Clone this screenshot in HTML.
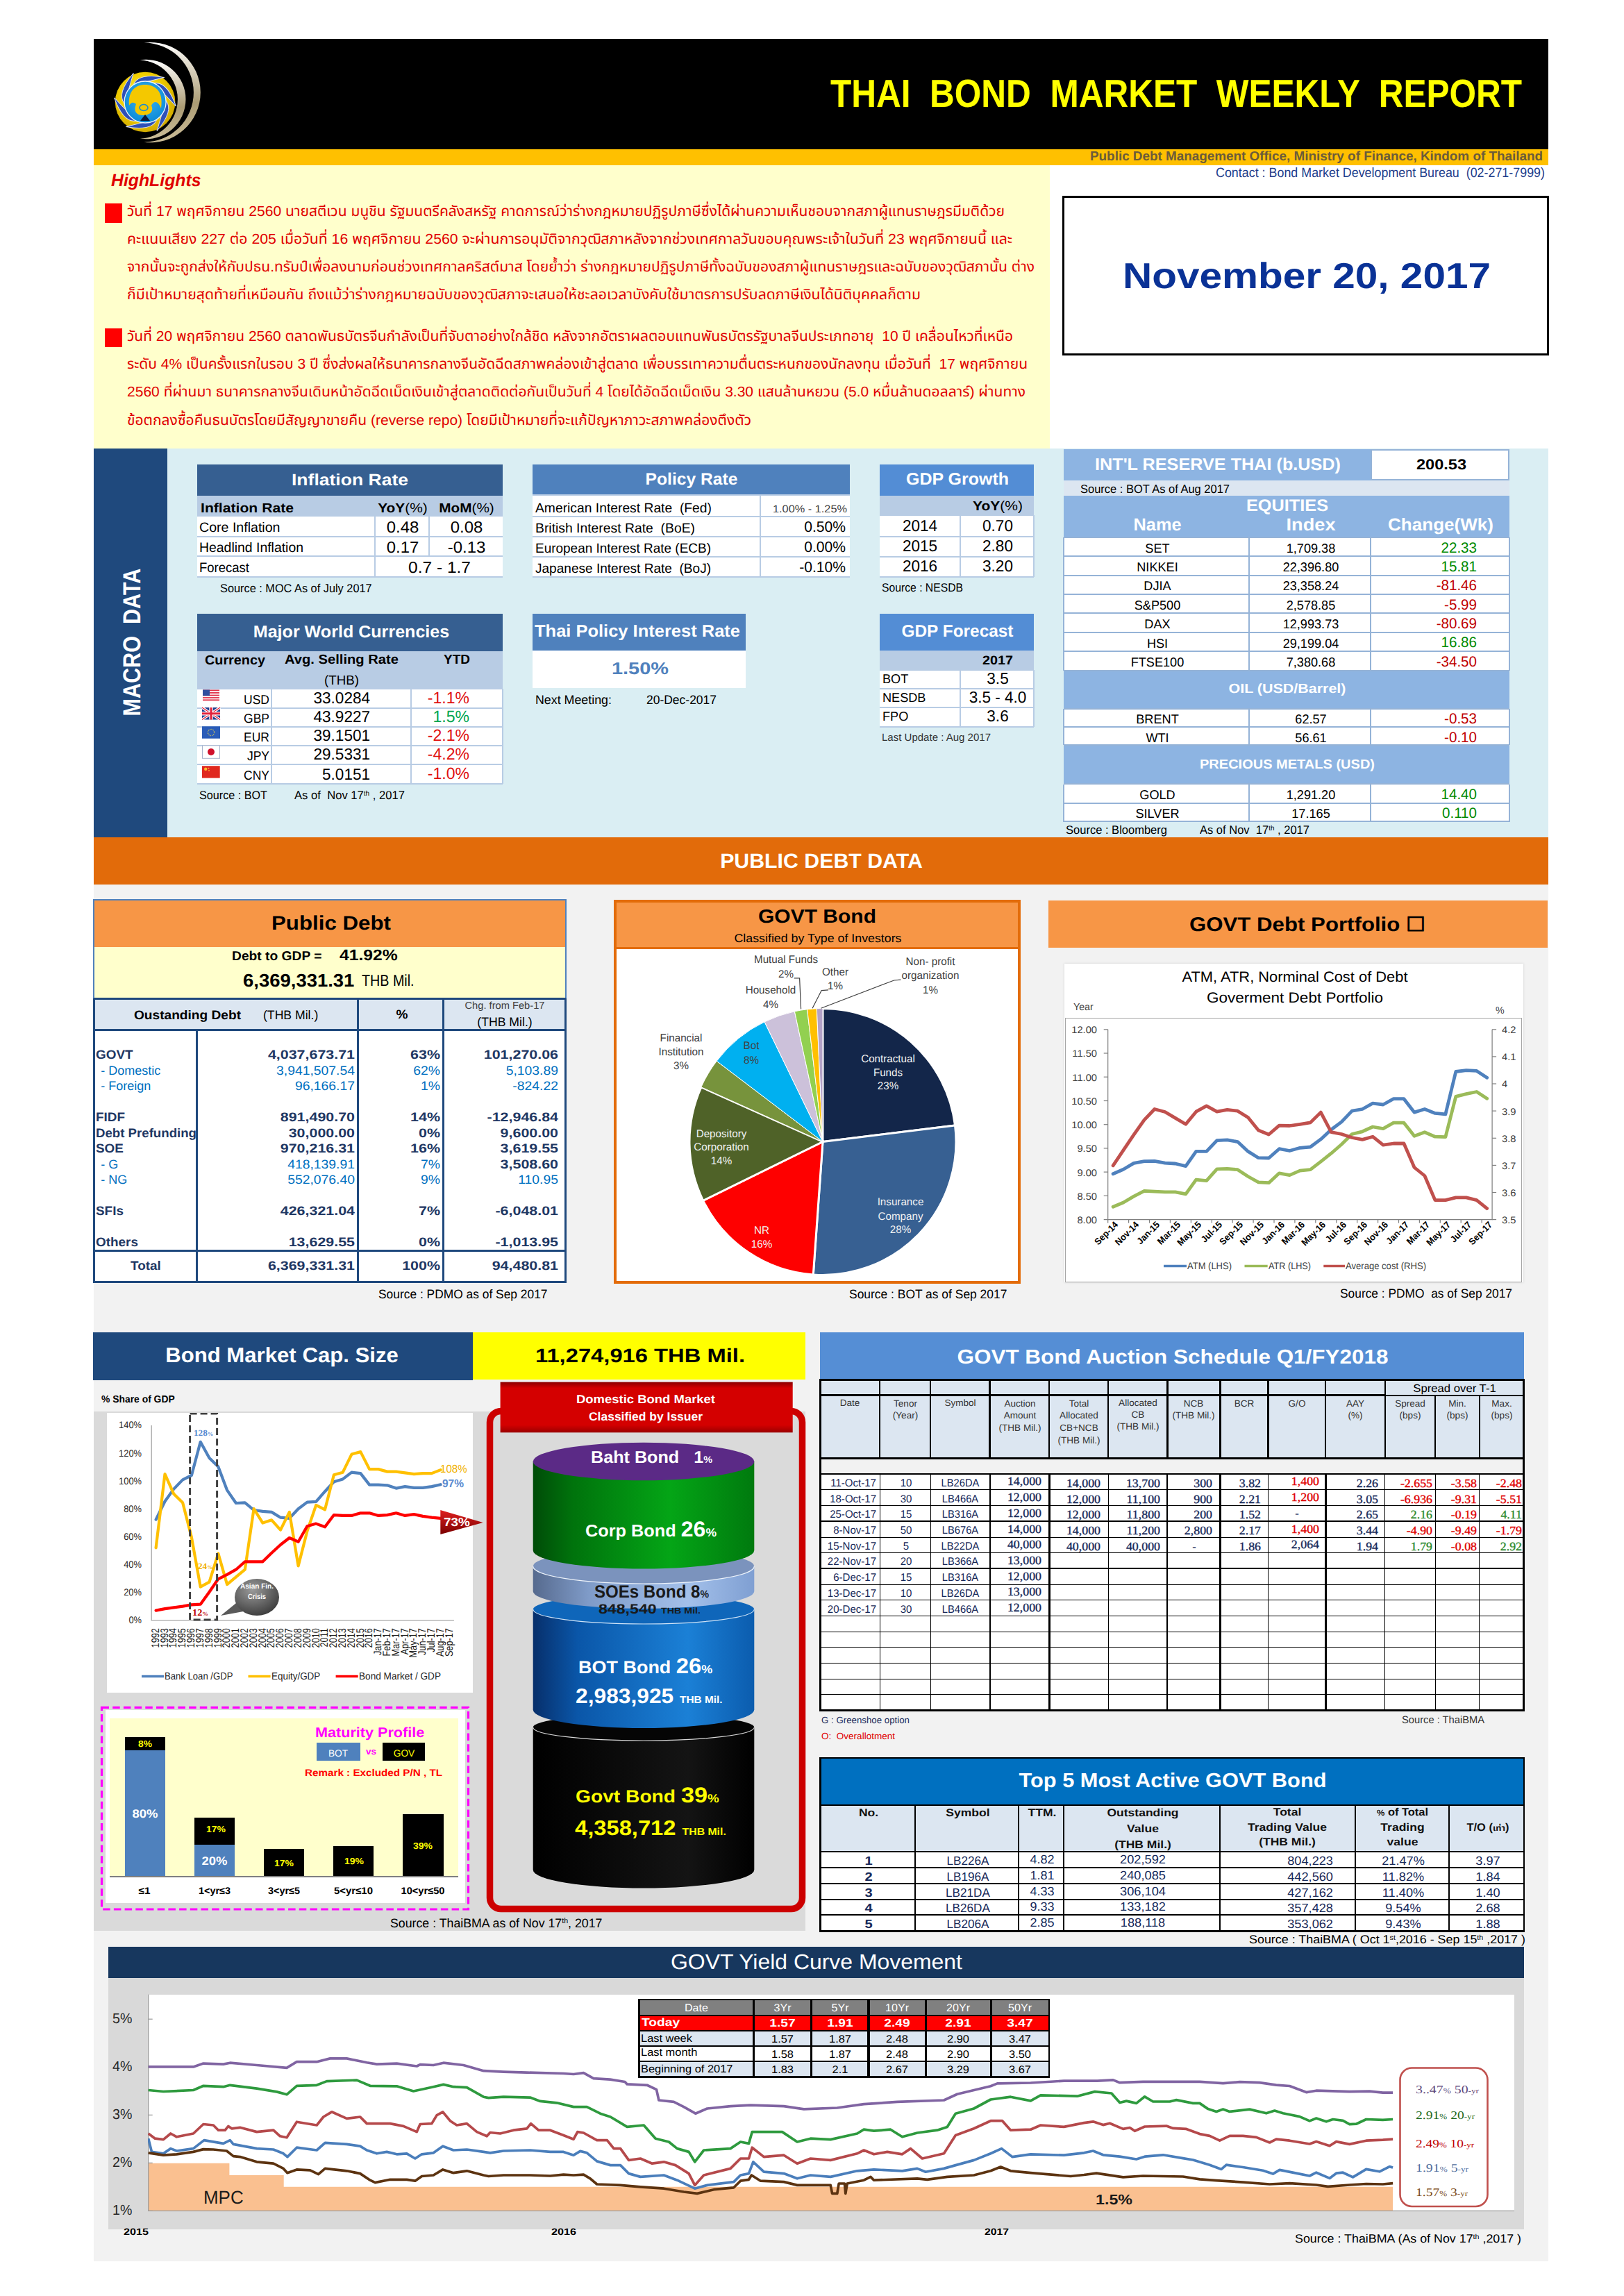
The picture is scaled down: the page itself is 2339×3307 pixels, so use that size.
<!DOCTYPE html>
<html lang="th"><head><meta charset="utf-8"><title>Thai Bond Market Weekly Report</title>
<style>
html,body{margin:0;padding:0;background:#fff;}
#pg{position:relative;width:2339px;height:3307px;overflow:hidden;background:#fff;font-family:"Liberation Sans",sans-serif;text-rendering:geometricPrecision;}
#pg div,#pg span,#pg svg{position:absolute;box-sizing:border-box;}
#pg span{white-space:pre;}
#pg em{font-style:normal;font-weight:normal;}
#pg sup{font-size:60%;vertical-align:baseline;position:relative;top:-0.5em;}
</style></head><body><div id="pg">
<div style="left:135.0px;top:56.0px;width:2094.5px;height:158.5px;background:#000;"></div>
<div style="left:135.0px;top:214.5px;width:2094.5px;height:23.0px;background:#ffc000;"></div>
<div style="left:135.0px;top:237.5px;width:1377.0px;height:408.0px;background:#ffffcc;"></div>
<div style="left:135.0px;top:645.5px;width:106.0px;height:560.5px;background:#1f497d;"></div>
<div style="left:241.0px;top:645.5px;width:1988.5px;height:560.5px;background:#daeef3;"></div>
<div style="left:135.0px;top:1206.0px;width:2094.5px;height:68.0px;background:#e26b0a;"></div>
<div style="left:135.0px;top:1274.0px;width:2094.5px;height:1983.0px;background:#f2f2f2;"></div>
<svg style="left:150px;top:56px;width:150px;height:158px" viewBox="150 56 150 158">
<defs>
<radialGradient id="lgY" cx="45%" cy="40%" r="65%"><stop offset="0" stop-color="#fff36a"/><stop offset="0.55" stop-color="#f2cf00"/><stop offset="1" stop-color="#c9a200"/></radialGradient>
<radialGradient id="lgB" cx="50%" cy="40%" r="60%"><stop offset="0" stop-color="#3fb4ee"/><stop offset="1" stop-color="#0a8ad8"/></radialGradient>
<linearGradient id="lgS" x1="0" y1="0" x2="0" y2="1"><stop offset="0" stop-color="#ffffff"/><stop offset="0.3" stop-color="#d6cdb8"/><stop offset="0.6" stop-color="#ab9c74"/><stop offset="1" stop-color="#cbbd98"/></linearGradient>
</defs>
<path d="M207.3 61.5 A72.2 72.2 0 1 1 207.3 204.7 A71.6 71.6 0 0 0 207.3 61.5 Z" fill="url(#lgS)"/>
<path d="M201.7 86.5 A57.2 57.2 0 1 1 201.7 199.6 A56.6 56.6 0 0 0 201.7 86.5 Z" fill="url(#lgS)"/>
<circle cx="209.1" cy="147" r="43.3" fill="url(#lgY)"/>
<g transform="translate(209.1 147)" fill="#2f50b8" stroke="#dfe8ff" stroke-width="0.9">
<path d="M29.9 -2.1 Q41.8 12.0 16.9 41.7 Q23.0 20.7 29.9 -2.1 Z" transform="rotate(0)"/><path d="M29.9 -2.1 Q41.8 12.0 16.9 41.7 Q23.0 20.7 29.9 -2.1 Z" transform="rotate(60)"/><path d="M29.9 -2.1 Q41.8 12.0 16.9 41.7 Q23.0 20.7 29.9 -2.1 Z" transform="rotate(120)"/><path d="M29.9 -2.1 Q41.8 12.0 16.9 41.7 Q23.0 20.7 29.9 -2.1 Z" transform="rotate(180)"/><path d="M29.9 -2.1 Q41.8 12.0 16.9 41.7 Q23.0 20.7 29.9 -2.1 Z" transform="rotate(240)"/><path d="M29.9 -2.1 Q41.8 12.0 16.9 41.7 Q23.0 20.7 29.9 -2.1 Z" transform="rotate(300)"/>
</g>
<circle cx="209.1" cy="147" r="30" fill="url(#lgB)" stroke="#e8f4ff" stroke-width="1.3"/>
<path d="M186 152 C184 128 198 122 209 122 C222 122 236 130 232 156 C228 146 222 144 218 152 C222 160 216 166 206 166 C196 166 192 160 196 150 C192 146 188 148 186 152 Z" fill="#f4c800"/>
<path d="M201 155 a6 4.5 0 1 0 12 0 a6 4.5 0 1 0 -12 0" fill="none" stroke="#1a8ad0" stroke-width="1.6"/>
<path d="M202 174 L209 165 L216 174 Z" fill="#0a1a3a"/>
</svg>
<span style="left:1195.5px;top:106.7px;font-size:56.5px;line-height:56.5px;color:#ffff00;font-weight:bold;transform-origin:0 50%;transform:scaleX(0.8765);">THAI  BOND  MARKET  WEEKLY  REPORT</span>
<span style="left:2222.0px;top:216.4px;font-size:18.8px;line-height:18.8px;color:#6b5b3a;font-weight:bold;transform-origin:100% 50%;transform:translateX(-100%) scaleX(1.0045);">Public Debt Management Office, Ministry of Finance, Kindom of Thailand</span>
<span style="left:2224.5px;top:239.5px;font-size:19.3px;line-height:19.3px;color:#1f3d8a;transform-origin:100% 50%;transform:translateX(-100%) scaleX(0.9271);">Contact : Bond Market Development Bureau  (02-271-7999)</span>
<div style="left:1530.0px;top:282.0px;width:700.5px;height:230.0px;background:#fff;border:3.5px solid #000;"></div>
<span style="left:1881.8px;top:371.7px;font-size:52.0px;line-height:52.0px;color:#0a3296;font-weight:bold;transform:translateX(-50%) scaleX(1.1248);">November 20, 2017</span>
<span style="left:160.3px;top:247.8px;font-size:25.0px;line-height:25.0px;color:#e00000;font-weight:bold;font-style:italic;transform-origin:0 50%;transform:scaleX(0.9921);">HighLights</span>
<div style="left:151.2px;top:293.0px;width:24.8px;height:27.5px;background:#ff0000;"></div>
<div style="left:151.2px;top:472.5px;width:24.8px;height:27.5px;background:#ff0000;"></div>
<div style="left:178px;top:282.4px;width:1272.0px;height:44px;overflow:hidden">
<span style="left:5.0px;top:12.6px;font-size:20.5px;line-height:20.5px;color:#e00000;font-family:'Liberation Sans', 'Noto Sans Thai', 'Tahoma', 'Loma', 'Garuda', sans-serif;transform-origin:0 50%;transform:scaleX(1.0267);">วันที่ 17 พฤศจิกายน 2560 นายสตีเวน มนูชิน รัฐมนตรีคลังสหรัฐ คาดการณ์ว่าร่างกฎหมายปฏิรูปภาษีซึ่งได้ผ่านความเห็นชอบจากสภาผู้แทนราษฎรมีมติด้วย</span>
</div>
<div style="left:178px;top:322.4px;width:1283.0px;height:44px;overflow:hidden">
<span style="left:5.0px;top:12.6px;font-size:20.5px;line-height:20.5px;color:#e00000;font-family:'Liberation Sans', 'Noto Sans Thai', 'Tahoma', 'Loma', 'Garuda', sans-serif;transform-origin:0 50%;transform:scaleX(1.0368);">คะแนนเสียง 227 ต่อ 205 เมื่อวันที่ 16 พฤศจิกายน 2560 จะผ่านการอนุมัติจากวุฒิสภาหลังจากช่วงเทศกาลวันขอบคุณพระเจ้าในวันที่ 23 พฤศจิกายนนี้ และ</span>
</div>
<div style="left:178px;top:362.4px;width:1315.0px;height:44px;overflow:hidden">
<span style="left:5.0px;top:12.6px;font-size:20.5px;line-height:20.5px;color:#e00000;font-family:'Liberation Sans', 'Noto Sans Thai', 'Tahoma', 'Loma', 'Garuda', sans-serif;transform-origin:0 50%;transform:scaleX(1.0276);">จากนั้นจะถูกส่งให้กับปธน.ทรัมป์เพื่อลงนามก่อนช่วงเทศกาลคริสต์มาส โดยย้ำว่า ร่างกฎหมายปฏิรูปภาษีทั้งฉบับของสภาผู้แทนราษฎรและฉบับของวุฒิสภานั้น ต่าง</span>
</div>
<div style="left:178px;top:402.4px;width:1151.0px;height:44px;overflow:hidden">
<span style="left:5.0px;top:12.6px;font-size:20.5px;line-height:20.5px;color:#e00000;font-family:'Liberation Sans', 'Noto Sans Thai', 'Tahoma', 'Loma', 'Garuda', sans-serif;transform-origin:0 50%;transform:scaleX(1.0335);">ก็มีเป้าหมายสุดท้ายที่เหมือนกัน ถึงแม้ว่าร่างกฎหมายฉบับของวุฒิสภาจะเสนอให้ชะลอเวลาบังคับใช้มาตรการปรับลดภาษีเงินได้นิติบุคคลก็ตาม</span>
</div>
<div style="left:178px;top:462.0px;width:1284.0px;height:44px;overflow:hidden">
<span style="left:5.0px;top:12.6px;font-size:20.5px;line-height:20.5px;color:#e00000;font-family:'Liberation Sans', 'Noto Sans Thai', 'Tahoma', 'Loma', 'Garuda', sans-serif;transform-origin:0 50%;transform:scaleX(1.0244);">วันที่ 20 พฤศจิกายน 2560 ตลาดพันธบัตรจีนกำลังเป็นที่จับตาอย่างใกล้ชิด หลังจากอัตราผลตอบแทนพันธบัตรรัฐบาลจีนประเภทอายุ  10 ปี เคลื่อนไหวที่เหนือ</span>
</div>
<div style="left:178px;top:502.3px;width:1305.0px;height:44px;overflow:hidden">
<span style="left:5.0px;top:12.6px;font-size:20.5px;line-height:20.5px;color:#e00000;font-family:'Liberation Sans', 'Noto Sans Thai', 'Tahoma', 'Loma', 'Garuda', sans-serif;transform-origin:0 50%;transform:scaleX(1.0258);">ระดับ 4% เป็นครั้งแรกในรอบ 3 ปี ซึ่งส่งผลให้ธนาคารกลางจีนอัดฉีดสภาพคล่องเข้าสู่ตลาด เพื่อบรรเทาความตื่นตระหนกของนักลงทุน เมื่อวันที่  17 พฤศจิกายน</span>
</div>
<div style="left:178px;top:542.6px;width:1302.0px;height:44px;overflow:hidden">
<span style="left:5.0px;top:12.6px;font-size:20.5px;line-height:20.5px;color:#e00000;font-family:'Liberation Sans', 'Noto Sans Thai', 'Tahoma', 'Loma', 'Garuda', sans-serif;transform-origin:0 50%;transform:scaleX(1.0260);">2560 ที่ผ่านมา ธนาคารกลางจีนเดินหน้าอัดฉีดเม็ดเงินเข้าสู่ตลาดติดต่อกันเป็นวันที่ 4 โดยได้อัดฉีดเม็ดเงิน 3.30 แสนล้านหยวน (5.0 หมื่นล้านดอลลาร์) ผ่านทาง</span>
</div>
<div style="left:178px;top:583.2px;width:907.0px;height:44px;overflow:hidden">
<span style="left:5.0px;top:12.6px;font-size:20.5px;line-height:20.5px;color:#e00000;font-family:'Liberation Sans', 'Noto Sans Thai', 'Tahoma', 'Loma', 'Garuda', sans-serif;transform-origin:0 50%;transform:scaleX(1.0266);">ข้อตกลงซื้อคืนธนบัตรโดยมีสัญญาขายคืน (reverse repo) โดยมีเป้าหมายที่จะแก้ปัญหาภาวะสภาพคล่องตึงตัว</span>
</div>
<span style="left:202.5px;top:894.9px;font-size:35.5px;line-height:35.5px;color:#fff;font-weight:bold;transform:translate(-50%,0) rotate(-90deg) scaleX(0.8618);transform-origin:50% 84.65%;">MACRO  DATA</span>
<div style="left:284.0px;top:669.0px;width:440.0px;height:44.5px;background:#365f91;"></div>
<span style="left:504.3px;top:679.9px;font-size:23.5px;line-height:23.5px;color:#fff;font-weight:bold;transform:translateX(-50%) scaleX(1.1287);">Inflation Rate</span>
<div style="left:284.0px;top:713.5px;width:440.0px;height:29.0px;background:#b8cce4;"></div>
<span style="left:289.0px;top:722.5px;font-size:19.0px;line-height:19.0px;color:#000;font-weight:bold;transform-origin:0 50%;transform:scaleX(1.1135);">Inflation Rate</span>
<span style="left:580.0px;top:722.5px;font-size:19.0px;line-height:19.0px;color:#000;font-weight:bold;transform:translateX(-50%) scaleX(1.0982);">YoY<em>(%)</em></span>
<span style="left:672.0px;top:722.5px;font-size:19.0px;line-height:19.0px;color:#000;font-weight:bold;transform:translateX(-50%) scaleX(1.0916);">MoM<em>(%)</em></span>
<div style="left:284.0px;top:742.5px;width:440.0px;height:88.0px;background:#fff;"></div>
<div style="left:284.0px;top:742.0px;width:440.0px;height:2.0px;background:#b8cce4;"></div>
<div style="left:284.0px;top:772.0px;width:440.0px;height:2.0px;background:#b8cce4;"></div>
<div style="left:284.0px;top:800.0px;width:440.0px;height:2.0px;background:#b8cce4;"></div>
<div style="left:284.0px;top:830.0px;width:440.0px;height:2.0px;background:#b8cce4;"></div>
<div style="left:539.0px;top:742.5px;width:2.0px;height:88.0px;background:#b8cce4;"></div>
<div style="left:617.0px;top:742.5px;width:2.0px;height:59.0px;background:#b8cce4;"></div>
<span style="left:287.0px;top:751.2px;font-size:19.5px;line-height:19.5px;color:#000;transform-origin:0 50%;transform:scaleX(1.0044);">Core Inflation</span>
<span style="left:580.0px;top:748.2px;font-size:23.0px;line-height:23.0px;color:#000;transform:translateX(-50%) scaleX(1.0400);">0.48</span>
<span style="left:672.0px;top:748.2px;font-size:23.0px;line-height:23.0px;color:#000;transform:translateX(-50%) scaleX(1.0400);">0.08</span>
<span style="left:287.0px;top:780.1px;font-size:19.5px;line-height:19.5px;color:#000;transform-origin:0 50%;transform:scaleX(0.9954);">Headlind Inflation</span>
<span style="left:580.0px;top:777.1px;font-size:23.0px;line-height:23.0px;color:#000;transform:translateX(-50%) scaleX(1.0400);">0.17</span>
<span style="left:672.0px;top:777.1px;font-size:23.0px;line-height:23.0px;color:#000;transform:translateX(-50%) scaleX(1.0400);">-0.13</span>
<span style="left:287.0px;top:809.2px;font-size:19.5px;line-height:19.5px;color:#000;transform-origin:0 50%;transform:scaleX(0.9491);">Forecast</span>
<span style="left:633.0px;top:805.5px;font-size:23.0px;line-height:23.0px;color:#000;transform:translateX(-50%) scaleX(1.0665);">0.7 - 1.7</span>
<span style="left:317.4px;top:838.6px;font-size:17.0px;line-height:17.0px;color:#000;transform-origin:0 50%;transform:scaleX(0.9600);">Source : MOC As of July 2017</span>
<div style="left:284.0px;top:884.4px;width:440.0px;height:53.6px;background:#365f91;"></div>
<span style="left:505.5px;top:899.0px;font-size:24.5px;line-height:24.5px;color:#fff;font-weight:bold;transform:translateX(-50%) scaleX(1.0238);">Major World Currencies</span>
<div style="left:284.0px;top:938.0px;width:440.0px;height:53.5px;background:#b8cce4;"></div>
<span style="left:295.2px;top:942.3px;font-size:19.0px;line-height:19.0px;color:#000;font-weight:bold;transform-origin:0 50%;transform:scaleX(1.0429);">Currency</span>
<span style="left:410.0px;top:941.2px;font-size:19.0px;line-height:19.0px;color:#000;font-weight:bold;transform-origin:0 50%;transform:scaleX(1.0615);">Avg. Selling Rate</span>
<span style="left:658.0px;top:941.2px;font-size:19.0px;line-height:19.0px;color:#000;font-weight:bold;transform:translateX(-50%) scaleX(1.0000);">YTD</span>
<span style="left:491.5px;top:971.4px;font-size:19.0px;line-height:19.0px;color:#000;transform:translateX(-50%) scaleX(0.9870);">(THB)</span>
<div style="left:284.0px;top:991.6px;width:440.0px;height:137.0px;background:#fff;"></div>
<div style="left:284.0px;top:991.0px;width:440.0px;height:2.0px;background:#b8cce4;"></div>
<div style="left:284.0px;top:1019.0px;width:440.0px;height:2.0px;background:#b8cce4;"></div>
<div style="left:284.0px;top:1046.0px;width:440.0px;height:2.0px;background:#b8cce4;"></div>
<div style="left:284.0px;top:1073.0px;width:440.0px;height:2.0px;background:#b8cce4;"></div>
<div style="left:284.0px;top:1100.0px;width:440.0px;height:2.0px;background:#b8cce4;"></div>
<div style="left:284.0px;top:1128.0px;width:440.0px;height:2.0px;background:#b8cce4;"></div>
<div style="left:390.0px;top:991.6px;width:2.0px;height:137.0px;background:#b8cce4;"></div>
<div style="left:591.0px;top:991.6px;width:2.0px;height:137.0px;background:#b8cce4;"></div>
<div style="left:723.0px;top:991.6px;width:2.0px;height:137.0px;background:#b8cce4;"></div>
<span style="left:388.0px;top:998.9px;font-size:18.6px;line-height:18.6px;color:#000;transform-origin:100% 50%;transform:translateX(-100%) scaleX(0.9400);">USD</span>
<span style="left:533.4px;top:994.1px;font-size:23.0px;line-height:23.0px;color:#000;transform-origin:100% 50%;transform:translateX(-100%) scaleX(0.9800);">33.0284</span>
<span style="left:676.2px;top:993.7px;font-size:23.5px;line-height:23.5px;color:#e01010;transform-origin:100% 50%;transform:translateX(-100%) scaleX(0.9800);">-1.1%</span>
<span style="left:388.0px;top:1025.8px;font-size:18.6px;line-height:18.6px;color:#000;transform-origin:100% 50%;transform:translateX(-100%) scaleX(0.9400);">GBP</span>
<span style="left:533.4px;top:1021.0px;font-size:23.0px;line-height:23.0px;color:#000;transform-origin:100% 50%;transform:translateX(-100%) scaleX(0.9800);">43.9227</span>
<span style="left:676.2px;top:1020.6px;font-size:23.5px;line-height:23.5px;color:#00a550;transform-origin:100% 50%;transform:translateX(-100%) scaleX(0.9800);">1.5%</span>
<span style="left:388.0px;top:1052.8px;font-size:18.6px;line-height:18.6px;color:#000;transform-origin:100% 50%;transform:translateX(-100%) scaleX(0.9400);">EUR</span>
<span style="left:533.4px;top:1048.0px;font-size:23.0px;line-height:23.0px;color:#000;transform-origin:100% 50%;transform:translateX(-100%) scaleX(0.9800);">39.1501</span>
<span style="left:676.2px;top:1047.6px;font-size:23.5px;line-height:23.5px;color:#e01010;transform-origin:100% 50%;transform:translateX(-100%) scaleX(0.9800);">-2.1%</span>
<span style="left:388.0px;top:1079.8px;font-size:18.6px;line-height:18.6px;color:#000;transform-origin:100% 50%;transform:translateX(-100%) scaleX(0.9400);">JPY</span>
<span style="left:533.4px;top:1075.0px;font-size:23.0px;line-height:23.0px;color:#000;transform-origin:100% 50%;transform:translateX(-100%) scaleX(0.9800);">29.5331</span>
<span style="left:676.2px;top:1074.6px;font-size:23.5px;line-height:23.5px;color:#e01010;transform-origin:100% 50%;transform:translateX(-100%) scaleX(0.9800);">-4.2%</span>
<span style="left:388.0px;top:1108.3px;font-size:18.6px;line-height:18.6px;color:#000;transform-origin:100% 50%;transform:translateX(-100%) scaleX(0.9400);">CNY</span>
<span style="left:533.4px;top:1103.5px;font-size:23.0px;line-height:23.0px;color:#000;transform-origin:100% 50%;transform:translateX(-100%) scaleX(0.9800);">5.0151</span>
<span style="left:676.2px;top:1103.1px;font-size:23.5px;line-height:23.5px;color:#e01010;transform-origin:100% 50%;transform:translateX(-100%) scaleX(0.9800);">-1.0%</span>
<svg style="left:291px;top:993px;width:27px;height:130px" viewBox="0 0 27 130">
<g><rect x="1" y="0.5" width="24" height="15.5" fill="#fff"/>
<g fill="#e0324a"><rect x="1" y="0.5" width="24" height="1.8"/><rect x="1" y="4" width="24" height="1.8"/><rect x="1" y="7.6" width="24" height="1.8"/><rect x="1" y="11.1" width="24" height="1.8"/><rect x="1" y="14.4" width="24" height="1.8"/></g>
<rect x="1" y="0.5" width="10" height="8.6" fill="#2f4f9f"/></g>
<g transform="translate(0,26)"><rect x="0" y="0" width="26" height="17.5" fill="#1f3f8f"/>
<path d="M0 0 L26 17.5 M26 0 L0 17.5" stroke="#fff" stroke-width="3.6"/><path d="M0 0 L26 17.5 M26 0 L0 17.5" stroke="#e0203a" stroke-width="1.3"/>
<path d="M13 0 V17.5 M0 8.75 H26" stroke="#fff" stroke-width="5.4"/><path d="M13 0 V17.5 M0 8.75 H26" stroke="#e0203a" stroke-width="3"/></g>
<g transform="translate(0,53.2)"><rect x="0" y="0" width="26" height="17.5" fill="#2a5cb8"/>
<circle cx="13" cy="8.75" r="4.6" fill="none" stroke="#c8c060" stroke-width="1.4" stroke-dasharray="1.2 1.2"/></g>
<g transform="translate(0,80.3)"><rect x="0.5" y="0.5" width="25" height="18.5" fill="#fff" stroke="#a8b4cc" stroke-width="1"/><circle cx="13" cy="9.7" r="5" fill="#d0102a"/></g>
<g transform="translate(0,110.2)"><rect x="0" y="0" width="25.7" height="17.4" fill="#e0281e"/><circle cx="5.2" cy="4.6" r="2.2" fill="#ffb830"/><circle cx="9.5" cy="3.4" r="0.9" fill="#ffb830"/><circle cx="10" cy="6.6" r="0.9" fill="#ffb830"/></g>
</svg>
<span style="left:287.0px;top:1136.8px;font-size:17.0px;line-height:17.0px;color:#000;transform-origin:0 50%;transform:scaleX(0.9516);">Source : BOT</span>
<span style="left:424.0px;top:1136.8px;font-size:17.0px;line-height:17.0px;color:#000;transform-origin:0 50%;transform:scaleX(0.9781);">As of  Nov 17<sup>th</sup> , 2017</span>
<div style="left:767.0px;top:669.0px;width:457.0px;height:44.5px;background:#4f81bd;"></div>
<span style="left:996.4px;top:679.2px;font-size:24.0px;line-height:24.0px;color:#fff;font-weight:bold;transform:translateX(-50%) scaleX(1.0279);">Policy Rate</span>
<div style="left:767.0px;top:713.5px;width:457.0px;height:117.1px;background:#fff;"></div>
<div style="left:767.0px;top:712.0px;width:457.0px;height:2.0px;background:#b8cce4;"></div>
<div style="left:767.0px;top:743.0px;width:457.0px;height:2.0px;background:#b8cce4;"></div>
<div style="left:767.0px;top:772.0px;width:457.0px;height:2.0px;background:#b8cce4;"></div>
<div style="left:767.0px;top:801.0px;width:457.0px;height:2.0px;background:#b8cce4;"></div>
<div style="left:767.0px;top:830.0px;width:457.0px;height:2.0px;background:#b8cce4;"></div>
<div style="left:1094.0px;top:713.5px;width:2.0px;height:117.1px;background:#b8cce4;"></div>
<span style="left:770.7px;top:722.6px;font-size:19.3px;line-height:19.3px;color:#000;transform-origin:0 50%;transform:scaleX(1.0001);">American Interest Rate  (Fed)</span>
<span style="left:770.7px;top:751.6px;font-size:19.3px;line-height:19.3px;color:#000;transform-origin:0 50%;transform:scaleX(1.0029);">British Interest Rate  (BoE)</span>
<span style="left:1218.0px;top:749.2px;font-size:21.5px;line-height:21.5px;color:#000;transform-origin:100% 50%;transform:translateX(-100%) scaleX(0.9800);">0.50%</span>
<span style="left:770.7px;top:780.7px;font-size:19.3px;line-height:19.3px;color:#000;transform-origin:0 50%;transform:scaleX(0.9836);">European Interest Rate (ECB)</span>
<span style="left:1218.0px;top:778.3px;font-size:21.5px;line-height:21.5px;color:#000;transform-origin:100% 50%;transform:translateX(-100%) scaleX(0.9800);">0.00%</span>
<span style="left:770.7px;top:809.7px;font-size:19.3px;line-height:19.3px;color:#000;transform-origin:0 50%;transform:scaleX(0.9877);">Japanese Interest Rate  (BoJ)</span>
<span style="left:1218.0px;top:807.3px;font-size:21.5px;line-height:21.5px;color:#000;transform-origin:100% 50%;transform:translateX(-100%) scaleX(0.9800);">-0.10%</span>
<span style="left:1219.7px;top:726.2px;font-size:15.0px;line-height:15.0px;color:#404040;transform-origin:100% 50%;transform:translateX(-100%) scaleX(1.0873);">1.00% - 1.25%</span>
<div style="left:767.0px;top:884.4px;width:306.7px;height:52.9px;background:#4f81bd;"></div>
<span style="left:918.0px;top:898.3px;font-size:24.5px;line-height:24.5px;color:#fff;font-weight:bold;transform:translateX(-50%) scaleX(1.0402);">Thai Policy Interest Rate</span>
<div style="left:767.0px;top:937.3px;width:306.7px;height:54.2px;background:#fff;"></div>
<span style="left:922.0px;top:952.1px;font-size:24.5px;line-height:24.5px;color:#4f81bd;font-weight:bold;transform:translateX(-50%) scaleX(1.1804);">1.50%</span>
<span style="left:770.7px;top:998.8px;font-size:18.0px;line-height:18.0px;color:#000;transform-origin:0 50%;transform:scaleX(0.9904);">Next Meeting:</span>
<span style="left:931.0px;top:998.8px;font-size:18.0px;line-height:18.0px;color:#000;transform-origin:0 50%;transform:scaleX(0.9706);">20-Dec-2017</span>
<div style="left:1267.3px;top:669.0px;width:221.4px;height:44.5px;background:#538dd5;"></div>
<span style="left:1378.5px;top:678.8px;font-size:24.5px;line-height:24.5px;color:#fff;font-weight:bold;transform:translateX(-50%) scaleX(1.0193);">GDP Growth</span>
<div style="left:1267.3px;top:713.5px;width:221.4px;height:28.7px;background:#b8cce4;"></div>
<span style="left:1436.8px;top:720.4px;font-size:19.0px;line-height:19.0px;color:#000;font-weight:bold;transform:translateX(-50%) scaleX(1.1058);">YoY<em>(%)</em></span>
<div style="left:1267.3px;top:742.2px;width:221.4px;height:88.4px;background:#fff;"></div>
<div style="left:1267.3px;top:741.0px;width:221.4px;height:2.0px;background:#b8cce4;"></div>
<div style="left:1267.3px;top:772.0px;width:221.4px;height:2.0px;background:#b8cce4;"></div>
<div style="left:1267.3px;top:801.0px;width:221.4px;height:2.0px;background:#b8cce4;"></div>
<div style="left:1267.3px;top:830.0px;width:221.4px;height:2.0px;background:#b8cce4;"></div>
<div style="left:1382.0px;top:742.2px;width:2.0px;height:88.4px;background:#b8cce4;"></div>
<div style="left:1488.0px;top:742.2px;width:2.0px;height:88.4px;background:#b8cce4;"></div>
<span style="left:1325.0px;top:745.8px;font-size:23.0px;line-height:23.0px;color:#000;transform:translateX(-50%) scaleX(0.9800);">2014</span>
<span style="left:1436.8px;top:745.8px;font-size:23.0px;line-height:23.0px;color:#000;transform:translateX(-50%) scaleX(0.9800);">0.70</span>
<span style="left:1325.0px;top:774.8px;font-size:23.0px;line-height:23.0px;color:#000;transform:translateX(-50%) scaleX(0.9800);">2015</span>
<span style="left:1436.8px;top:774.8px;font-size:23.0px;line-height:23.0px;color:#000;transform:translateX(-50%) scaleX(0.9800);">2.80</span>
<span style="left:1325.0px;top:803.7px;font-size:23.0px;line-height:23.0px;color:#000;transform:translateX(-50%) scaleX(0.9800);">2016</span>
<span style="left:1436.8px;top:803.7px;font-size:23.0px;line-height:23.0px;color:#000;transform:translateX(-50%) scaleX(0.9800);">3.20</span>
<span style="left:1270.0px;top:838.3px;font-size:17.0px;line-height:17.0px;color:#000;transform-origin:0 50%;transform:scaleX(0.9241);">Source : NESDB</span>
<div style="left:1267.3px;top:884.4px;width:221.4px;height:52.9px;background:#538dd5;"></div>
<span style="left:1378.5px;top:898.3px;font-size:24.5px;line-height:24.5px;color:#fff;font-weight:bold;transform:translateX(-50%) scaleX(0.9963);">GDP Forecast</span>
<div style="left:1267.3px;top:937.3px;width:221.4px;height:27.3px;background:#b8cce4;"></div>
<span style="left:1436.8px;top:942.2px;font-size:18.0px;line-height:18.0px;color:#000;font-weight:bold;transform:translateX(-50%) scaleX(1.0987);">2017</span>
<div style="left:1267.3px;top:964.6px;width:221.4px;height:82.1px;background:#fff;"></div>
<div style="left:1267.3px;top:964.0px;width:221.4px;height:2.0px;background:#b8cce4;"></div>
<div style="left:1267.3px;top:991.0px;width:221.4px;height:2.0px;background:#b8cce4;"></div>
<div style="left:1267.3px;top:1018.0px;width:221.4px;height:2.0px;background:#b8cce4;"></div>
<div style="left:1267.3px;top:1046.0px;width:221.4px;height:2.0px;background:#b8cce4;"></div>
<div style="left:1382.0px;top:964.6px;width:2.0px;height:82.1px;background:#b8cce4;"></div>
<div style="left:1488.0px;top:964.6px;width:2.0px;height:82.1px;background:#b8cce4;"></div>
<span style="left:1270.5px;top:969.1px;font-size:18.5px;line-height:18.5px;color:#000;transform-origin:0 50%;transform:scaleX(0.9800);">BOT</span>
<span style="left:1436.8px;top:965.8px;font-size:23.0px;line-height:23.0px;color:#000;transform:translateX(-50%) scaleX(0.9800);">3.5</span>
<span style="left:1270.5px;top:996.3px;font-size:18.5px;line-height:18.5px;color:#000;transform-origin:0 50%;transform:scaleX(0.9800);">NESDB</span>
<span style="left:1436.8px;top:993.0px;font-size:23.0px;line-height:23.0px;color:#000;transform:translateX(-50%) scaleX(0.9800);">3.5 - 4.0</span>
<span style="left:1270.5px;top:1023.3px;font-size:18.5px;line-height:18.5px;color:#000;transform-origin:0 50%;transform:scaleX(0.9800);">FPO</span>
<span style="left:1436.8px;top:1020.0px;font-size:23.0px;line-height:23.0px;color:#000;transform:translateX(-50%) scaleX(0.9800);">3.6</span>
<span style="left:1270.0px;top:1055.3px;font-size:15.0px;line-height:15.0px;color:#333;transform-origin:0 50%;transform:scaleX(1.0013);">Last Update : Aug 2017</span>
<div style="left:1531.7px;top:647.0px;width:642.5px;height:44.7px;background:#8db4e2;"></div>
<div style="left:1974.0px;top:647.0px;width:200.2px;height:44.7px;background:#fff;border:2px solid #95b3d7;"></div>
<span style="left:1577.4px;top:657.6px;font-size:24.5px;line-height:24.5px;color:#fff;font-weight:bold;transform-origin:0 50%;transform:scaleX(1.0294);">INT&#x27;L RESERVE THAI (b.USD)</span>
<span style="left:2075.7px;top:659.2px;font-size:21.0px;line-height:21.0px;color:#000;font-weight:bold;transform:translateX(-50%) scaleX(1.1209);">200.53</span>
<div style="left:1531.7px;top:691.7px;width:642.5px;height:22.3px;background:#dce6f1;"></div>
<span style="left:1556.0px;top:696.3px;font-size:17.0px;line-height:17.0px;color:#000;transform-origin:0 50%;transform:scaleX(0.9694);">Source : BOT As of Aug 2017</span>
<div style="left:1531.7px;top:714.0px;width:642.5px;height:60.0px;background:#8db4e2;"></div>
<span style="left:1854.0px;top:716.7px;font-size:24.0px;line-height:24.0px;color:#fff;font-weight:bold;transform:translateX(-50%) scaleX(1.0533);">EQUITIES</span>
<span style="left:1667.0px;top:744.4px;font-size:25.0px;line-height:25.0px;color:#fff;font-weight:bold;transform:translateX(-50%) scaleX(1.0133);">Name</span>
<span style="left:1887.8px;top:744.4px;font-size:25.0px;line-height:25.0px;color:#fff;font-weight:bold;transform:translateX(-50%) scaleX(1.0873);">Index</span>
<span style="left:2075.3px;top:744.4px;font-size:25.0px;line-height:25.0px;color:#fff;font-weight:bold;transform:translateX(-50%) scaleX(1.0423);">Change(Wk)</span>
<div style="left:1531.7px;top:774.0px;width:642.5px;height:191.6px;background:#fff;"></div>
<div style="left:1531.7px;top:773.0px;width:642.5px;height:2.0px;background:#95b3d7;"></div>
<div style="left:1531.7px;top:800.0px;width:642.5px;height:2.0px;background:#95b3d7;"></div>
<div style="left:1531.7px;top:828.0px;width:642.5px;height:2.0px;background:#95b3d7;"></div>
<div style="left:1531.7px;top:855.0px;width:642.5px;height:2.0px;background:#95b3d7;"></div>
<div style="left:1531.7px;top:882.0px;width:642.5px;height:2.0px;background:#95b3d7;"></div>
<div style="left:1531.7px;top:910.0px;width:642.5px;height:2.0px;background:#95b3d7;"></div>
<div style="left:1531.7px;top:937.0px;width:642.5px;height:2.0px;background:#95b3d7;"></div>
<div style="left:1531.7px;top:965.0px;width:642.5px;height:2.0px;background:#95b3d7;"></div>
<div style="left:1798.0px;top:774.0px;width:2.0px;height:191.6px;background:#95b3d7;"></div>
<div style="left:1973.0px;top:774.0px;width:2.0px;height:191.6px;background:#95b3d7;"></div>
<div style="left:1531.0px;top:774.0px;width:2.0px;height:191.6px;background:#95b3d7;"></div>
<div style="left:2173.0px;top:774.0px;width:2.0px;height:191.6px;background:#95b3d7;"></div>
<span style="left:1667.0px;top:780.6px;font-size:18.5px;line-height:18.5px;color:#000;transform:translateX(-50%) scaleX(0.9800);">SET</span>
<span style="left:1887.8px;top:780.6px;font-size:18.5px;line-height:18.5px;color:#000;transform:translateX(-50%) scaleX(0.9800);">1,709.38</span>
<span style="left:2126.5px;top:778.5px;font-size:21.0px;line-height:21.0px;color:#008a00;transform-origin:100% 50%;transform:translateX(-100%) scaleX(0.9800);">22.33</span>
<span style="left:1667.0px;top:808.0px;font-size:18.5px;line-height:18.5px;color:#000;transform:translateX(-50%) scaleX(0.9800);">NIKKEI</span>
<span style="left:1887.8px;top:808.0px;font-size:18.5px;line-height:18.5px;color:#000;transform:translateX(-50%) scaleX(0.9800);">22,396.80</span>
<span style="left:2126.5px;top:805.9px;font-size:21.0px;line-height:21.0px;color:#008a00;transform-origin:100% 50%;transform:translateX(-100%) scaleX(0.9800);">15.81</span>
<span style="left:1667.0px;top:835.4px;font-size:18.5px;line-height:18.5px;color:#000;transform:translateX(-50%) scaleX(0.9800);">DJIA</span>
<span style="left:1887.8px;top:835.4px;font-size:18.5px;line-height:18.5px;color:#000;transform:translateX(-50%) scaleX(0.9800);">23,358.24</span>
<span style="left:2126.5px;top:833.3px;font-size:21.0px;line-height:21.0px;color:#c00000;transform-origin:100% 50%;transform:translateX(-100%) scaleX(0.9800);">-81.46</span>
<span style="left:1667.0px;top:862.7px;font-size:18.5px;line-height:18.5px;color:#000;transform:translateX(-50%) scaleX(0.9800);">S&amp;P500</span>
<span style="left:1887.8px;top:862.7px;font-size:18.5px;line-height:18.5px;color:#000;transform:translateX(-50%) scaleX(0.9800);">2,578.85</span>
<span style="left:2126.5px;top:860.6px;font-size:21.0px;line-height:21.0px;color:#c00000;transform-origin:100% 50%;transform:translateX(-100%) scaleX(0.9800);">-5.99</span>
<span style="left:1667.0px;top:890.1px;font-size:18.5px;line-height:18.5px;color:#000;transform:translateX(-50%) scaleX(0.9800);">DAX</span>
<span style="left:1887.8px;top:890.1px;font-size:18.5px;line-height:18.5px;color:#000;transform:translateX(-50%) scaleX(0.9800);">12,993.73</span>
<span style="left:2126.5px;top:888.0px;font-size:21.0px;line-height:21.0px;color:#c00000;transform-origin:100% 50%;transform:translateX(-100%) scaleX(0.9800);">-80.69</span>
<span style="left:1667.0px;top:917.5px;font-size:18.5px;line-height:18.5px;color:#000;transform:translateX(-50%) scaleX(0.9800);">HSI</span>
<span style="left:1887.8px;top:917.5px;font-size:18.5px;line-height:18.5px;color:#000;transform:translateX(-50%) scaleX(0.9800);">29,199.04</span>
<span style="left:2126.5px;top:915.4px;font-size:21.0px;line-height:21.0px;color:#008a00;transform-origin:100% 50%;transform:translateX(-100%) scaleX(0.9800);">16.86</span>
<span style="left:1667.0px;top:944.9px;font-size:18.5px;line-height:18.5px;color:#000;transform:translateX(-50%) scaleX(0.9800);">FTSE100</span>
<span style="left:1887.8px;top:944.9px;font-size:18.5px;line-height:18.5px;color:#000;transform:translateX(-50%) scaleX(0.9800);">7,380.68</span>
<span style="left:2126.5px;top:942.7px;font-size:21.0px;line-height:21.0px;color:#c00000;transform-origin:100% 50%;transform:translateX(-100%) scaleX(0.9800);">-34.50</span>
<div style="left:1531.7px;top:966.6px;width:642.5px;height:54.2px;background:#8db4e2;"></div>
<span style="left:1853.7px;top:983.2px;font-size:19.0px;line-height:19.0px;color:#fff;font-weight:bold;transform:translateX(-50%) scaleX(1.1298);">OIL (USD/Barrel)</span>
<div style="left:1531.7px;top:1020.8px;width:642.5px;height:52.6px;background:#fff;"></div>
<div style="left:1531.7px;top:1020.0px;width:642.5px;height:2.0px;background:#95b3d7;"></div>
<div style="left:1531.7px;top:1046.0px;width:642.5px;height:2.0px;background:#95b3d7;"></div>
<div style="left:1531.7px;top:1072.0px;width:642.5px;height:2.0px;background:#95b3d7;"></div>
<div style="left:1798.0px;top:1020.8px;width:2.0px;height:52.6px;background:#95b3d7;"></div>
<div style="left:1973.0px;top:1020.8px;width:2.0px;height:52.6px;background:#95b3d7;"></div>
<div style="left:1531.0px;top:1020.8px;width:2.0px;height:52.6px;background:#95b3d7;"></div>
<div style="left:2173.0px;top:1020.8px;width:2.0px;height:52.6px;background:#95b3d7;"></div>
<span style="left:1667.0px;top:1027.4px;font-size:18.5px;line-height:18.5px;color:#000;transform:translateX(-50%) scaleX(0.9800);">BRENT</span>
<span style="left:1887.8px;top:1027.4px;font-size:18.5px;line-height:18.5px;color:#000;transform:translateX(-50%) scaleX(0.9800);">62.57</span>
<span style="left:2126.5px;top:1025.3px;font-size:21.0px;line-height:21.0px;color:#c00000;transform-origin:100% 50%;transform:translateX(-100%) scaleX(0.9800);">-0.53</span>
<span style="left:1667.0px;top:1053.7px;font-size:18.5px;line-height:18.5px;color:#000;transform:translateX(-50%) scaleX(0.9800);">WTI</span>
<span style="left:1887.8px;top:1053.7px;font-size:18.5px;line-height:18.5px;color:#000;transform:translateX(-50%) scaleX(0.9800);">56.61</span>
<span style="left:2126.5px;top:1051.6px;font-size:21.0px;line-height:21.0px;color:#c00000;transform-origin:100% 50%;transform:translateX(-100%) scaleX(0.9800);">-0.10</span>
<div style="left:1531.7px;top:1074.4px;width:642.5px;height:55.1px;background:#8db4e2;"></div>
<span style="left:1853.7px;top:1092.2px;font-size:19.0px;line-height:19.0px;color:#fff;font-weight:bold;transform:translateX(-50%) scaleX(1.0532);">PRECIOUS METALS (USD)</span>
<div style="left:1531.7px;top:1129.5px;width:642.5px;height:54.0px;background:#fff;"></div>
<div style="left:1531.7px;top:1128.0px;width:642.5px;height:2.0px;background:#95b3d7;"></div>
<div style="left:1531.7px;top:1156.0px;width:642.5px;height:2.0px;background:#95b3d7;"></div>
<div style="left:1531.7px;top:1182.0px;width:642.5px;height:2.0px;background:#95b3d7;"></div>
<div style="left:1798.0px;top:1129.5px;width:2.0px;height:54.0px;background:#95b3d7;"></div>
<div style="left:1973.0px;top:1129.5px;width:2.0px;height:54.0px;background:#95b3d7;"></div>
<div style="left:1531.0px;top:1129.5px;width:2.0px;height:54.0px;background:#95b3d7;"></div>
<div style="left:2173.0px;top:1129.5px;width:2.0px;height:54.0px;background:#95b3d7;"></div>
<span style="left:1667.0px;top:1136.1px;font-size:18.5px;line-height:18.5px;color:#000;transform:translateX(-50%) scaleX(0.9800);">GOLD</span>
<span style="left:1887.8px;top:1136.1px;font-size:18.5px;line-height:18.5px;color:#000;transform:translateX(-50%) scaleX(0.9800);">1,291.20</span>
<span style="left:2126.5px;top:1134.0px;font-size:21.0px;line-height:21.0px;color:#008a00;transform-origin:100% 50%;transform:translateX(-100%) scaleX(0.9800);">14.40</span>
<span style="left:1667.0px;top:1163.1px;font-size:18.5px;line-height:18.5px;color:#000;transform:translateX(-50%) scaleX(0.9800);">SILVER</span>
<span style="left:1887.8px;top:1163.1px;font-size:18.5px;line-height:18.5px;color:#000;transform:translateX(-50%) scaleX(0.9800);">17.165</span>
<span style="left:2126.5px;top:1161.0px;font-size:21.0px;line-height:21.0px;color:#008a00;transform-origin:100% 50%;transform:translateX(-100%) scaleX(0.9800);">0.110</span>
<span style="left:1535.0px;top:1186.6px;font-size:17.0px;line-height:17.0px;color:#000;transform-origin:0 50%;transform:scaleX(0.9717);">Source : Bloomberg</span>
<span style="left:1728.0px;top:1186.6px;font-size:17.0px;line-height:17.0px;color:#000;transform-origin:0 50%;transform:scaleX(0.9719);">As of Nov  17<sup>th</sup> , 2017</span>
<span style="left:1183.3px;top:1225.6px;font-size:29.5px;line-height:29.5px;color:#fff;font-weight:bold;transform:translateX(-50%) scaleX(1.0269);">PUBLIC DEBT DATA</span>
<div style="left:134.6px;top:1296.4px;width:680.6px;height:67.8px;background:#f79646;"></div>
<div style="left:134.6px;top:1364.2px;width:680.6px;height:74.1px;background:#ffffcc;"></div>
<div style="left:134.6px;top:1438.3px;width:680.6px;height:45.7px;background:#dce6f1;"></div>
<div style="left:134.6px;top:1484.0px;width:680.6px;height:362.7px;background:#fff;"></div>
<div style="left:133.6px;top:1295.4px;width:682.6px;height:142.9px;background:transparent;border:2px solid #4f81bd;border-bottom:none;"></div>
<span style="left:476.9px;top:1315.7px;font-size:28.5px;line-height:28.5px;color:#000;font-weight:bold;transform:translateX(-50%) scaleX(1.0972);">Public Debt</span>
<span style="left:334.1px;top:1367.6px;font-size:18.5px;line-height:18.5px;color:#000;font-weight:bold;transform-origin:0 50%;transform:scaleX(1.0396);">Debt to GDP =</span>
<span style="left:489.3px;top:1364.7px;font-size:22.0px;line-height:22.0px;color:#000;font-weight:bold;transform-origin:0 50%;transform:scaleX(1.1216);">41.92%</span>
<span style="left:349.6px;top:1398.5px;font-size:26.0px;line-height:26.0px;color:#000;font-weight:bold;transform-origin:0 50%;transform:scaleX(1.0566);">6,369,331.31</span>
<span style="left:521.0px;top:1401.0px;font-size:23.0px;line-height:23.0px;color:#000;transform-origin:0 50%;transform:scaleX(0.8574);">THB Mil.</span>
<div style="left:134.6px;top:1437.0px;width:680.6px;height:3.0px;background:#1f497d;"></div>
<div style="left:134.6px;top:1482.0px;width:680.6px;height:3.0px;background:#1f497d;"></div>
<div style="left:134.6px;top:1800.0px;width:680.6px;height:3.0px;background:#1f497d;"></div>
<div style="left:134.6px;top:1845.0px;width:680.6px;height:3.0px;background:#1f497d;"></div>
<div style="left:134.0px;top:1438.3px;width:3.0px;height:409.7px;background:#1f497d;"></div>
<div style="left:813.0px;top:1438.3px;width:3.0px;height:409.7px;background:#1f497d;"></div>
<div style="left:282.0px;top:1484.0px;width:3.0px;height:362.7px;background:#1f497d;"></div>
<div style="left:514.0px;top:1438.3px;width:3.0px;height:408.4px;background:#1f497d;"></div>
<div style="left:637.0px;top:1438.3px;width:3.0px;height:408.4px;background:#1f497d;"></div>
<span style="left:193.0px;top:1453.2px;font-size:18.0px;line-height:18.0px;color:#000;font-weight:bold;transform-origin:0 50%;transform:scaleX(1.0621);">Oustanding Debt</span>
<span style="left:379.4px;top:1453.2px;font-size:18.0px;line-height:18.0px;color:#000;transform-origin:0 50%;transform:scaleX(0.9792);">(THB Mil.)</span>
<span style="left:578.9px;top:1452.3px;font-size:18.0px;line-height:18.0px;color:#000;font-weight:bold;transform:translateX(-50%) scaleX(1.0600);">%</span>
<span style="left:726.5px;top:1441.5px;font-size:14.5px;line-height:14.5px;color:#404040;transform:translateX(-50%) scaleX(1.0120);">Chg. from Feb-17</span>
<span style="left:726.5px;top:1463.0px;font-size:18.0px;line-height:18.0px;color:#000;transform:translateX(-50%) scaleX(0.9792);">(THB Mil.)</span>
<span style="left:138.2px;top:1510.4px;font-size:18.0px;line-height:18.0px;color:#1f3864;font-weight:bold;transform-origin:0 50%;transform:scaleX(1.0500);">GOVT</span>
<span style="left:510.9px;top:1510.4px;font-size:18.0px;line-height:18.0px;color:#1f3864;font-weight:bold;transform-origin:100% 50%;transform:translateX(-100%) scaleX(1.1900);">4,037,673.71</span>
<span style="left:633.7px;top:1510.4px;font-size:18.0px;line-height:18.0px;color:#1f3864;font-weight:bold;transform-origin:100% 50%;transform:translateX(-100%) scaleX(1.1900);">63%</span>
<span style="left:804.4px;top:1510.4px;font-size:18.0px;line-height:18.0px;color:#1f3864;font-weight:bold;transform-origin:100% 50%;transform:translateX(-100%) scaleX(1.1900);">101,270.06</span>
<span style="left:145.3px;top:1532.9px;font-size:18.0px;line-height:18.0px;color:#0070c0;transform-origin:0 50%;transform:scaleX(1.0000);">- Domestic</span>
<span style="left:510.9px;top:1532.9px;font-size:18.0px;line-height:18.0px;color:#0070c0;transform-origin:100% 50%;transform:translateX(-100%) scaleX(1.0750);">3,941,507.54</span>
<span style="left:633.7px;top:1532.9px;font-size:18.0px;line-height:18.0px;color:#0070c0;transform-origin:100% 50%;transform:translateX(-100%) scaleX(1.0750);">62%</span>
<span style="left:804.4px;top:1532.9px;font-size:18.0px;line-height:18.0px;color:#0070c0;transform-origin:100% 50%;transform:translateX(-100%) scaleX(1.0750);">5,103.89</span>
<span style="left:145.3px;top:1555.4px;font-size:18.0px;line-height:18.0px;color:#0070c0;transform-origin:0 50%;transform:scaleX(1.0000);">- Foreign</span>
<span style="left:510.9px;top:1555.4px;font-size:18.0px;line-height:18.0px;color:#0070c0;transform-origin:100% 50%;transform:translateX(-100%) scaleX(1.0750);">96,166.17</span>
<span style="left:633.7px;top:1555.4px;font-size:18.0px;line-height:18.0px;color:#0070c0;transform-origin:100% 50%;transform:translateX(-100%) scaleX(1.0750);">1%</span>
<span style="left:804.4px;top:1555.4px;font-size:18.0px;line-height:18.0px;color:#0070c0;transform-origin:100% 50%;transform:translateX(-100%) scaleX(1.0750);">-824.22</span>
<span style="left:138.2px;top:1600.4px;font-size:18.0px;line-height:18.0px;color:#1f3864;font-weight:bold;transform-origin:0 50%;transform:scaleX(1.0500);">FIDF</span>
<span style="left:510.9px;top:1600.4px;font-size:18.0px;line-height:18.0px;color:#1f3864;font-weight:bold;transform-origin:100% 50%;transform:translateX(-100%) scaleX(1.1900);">891,490.70</span>
<span style="left:633.7px;top:1600.4px;font-size:18.0px;line-height:18.0px;color:#1f3864;font-weight:bold;transform-origin:100% 50%;transform:translateX(-100%) scaleX(1.1900);">14%</span>
<span style="left:804.4px;top:1600.4px;font-size:18.0px;line-height:18.0px;color:#1f3864;font-weight:bold;transform-origin:100% 50%;transform:translateX(-100%) scaleX(1.1900);">-12,946.84</span>
<span style="left:138.2px;top:1622.9px;font-size:18.0px;line-height:18.0px;color:#1f3864;font-weight:bold;transform-origin:0 50%;transform:scaleX(1.0357);">Debt Prefunding</span>
<span style="left:510.9px;top:1622.9px;font-size:18.0px;line-height:18.0px;color:#1f3864;font-weight:bold;transform-origin:100% 50%;transform:translateX(-100%) scaleX(1.1900);">30,000.00</span>
<span style="left:633.7px;top:1622.9px;font-size:18.0px;line-height:18.0px;color:#1f3864;font-weight:bold;transform-origin:100% 50%;transform:translateX(-100%) scaleX(1.1900);">0%</span>
<span style="left:804.4px;top:1622.9px;font-size:18.0px;line-height:18.0px;color:#1f3864;font-weight:bold;transform-origin:100% 50%;transform:translateX(-100%) scaleX(1.1900);">9,600.00</span>
<span style="left:138.2px;top:1645.4px;font-size:18.0px;line-height:18.0px;color:#1f3864;font-weight:bold;transform-origin:0 50%;transform:scaleX(1.0500);">SOE</span>
<span style="left:510.9px;top:1645.4px;font-size:18.0px;line-height:18.0px;color:#1f3864;font-weight:bold;transform-origin:100% 50%;transform:translateX(-100%) scaleX(1.1900);">970,216.31</span>
<span style="left:633.7px;top:1645.4px;font-size:18.0px;line-height:18.0px;color:#1f3864;font-weight:bold;transform-origin:100% 50%;transform:translateX(-100%) scaleX(1.1900);">16%</span>
<span style="left:804.4px;top:1645.4px;font-size:18.0px;line-height:18.0px;color:#1f3864;font-weight:bold;transform-origin:100% 50%;transform:translateX(-100%) scaleX(1.1900);">3,619.55</span>
<span style="left:145.3px;top:1667.9px;font-size:18.0px;line-height:18.0px;color:#0070c0;transform-origin:0 50%;transform:scaleX(1.0000);">- G</span>
<span style="left:510.9px;top:1667.9px;font-size:18.0px;line-height:18.0px;color:#0070c0;transform-origin:100% 50%;transform:translateX(-100%) scaleX(1.0750);">418,139.91</span>
<span style="left:633.7px;top:1667.9px;font-size:18.0px;line-height:18.0px;color:#0070c0;transform-origin:100% 50%;transform:translateX(-100%) scaleX(1.0750);">7%</span>
<span style="left:804.4px;top:1667.9px;font-size:18.0px;line-height:18.0px;color:#1f3864;font-weight:bold;transform-origin:100% 50%;transform:translateX(-100%) scaleX(1.1900);">3,508.60</span>
<span style="left:145.3px;top:1690.4px;font-size:18.0px;line-height:18.0px;color:#0070c0;transform-origin:0 50%;transform:scaleX(1.0000);">- NG</span>
<span style="left:510.9px;top:1690.4px;font-size:18.0px;line-height:18.0px;color:#0070c0;transform-origin:100% 50%;transform:translateX(-100%) scaleX(1.0750);">552,076.40</span>
<span style="left:633.7px;top:1690.4px;font-size:18.0px;line-height:18.0px;color:#0070c0;transform-origin:100% 50%;transform:translateX(-100%) scaleX(1.0750);">9%</span>
<span style="left:804.4px;top:1690.4px;font-size:18.0px;line-height:18.0px;color:#0070c0;transform-origin:100% 50%;transform:translateX(-100%) scaleX(1.0750);">110.95</span>
<span style="left:138.2px;top:1735.4px;font-size:18.0px;line-height:18.0px;color:#1f3864;font-weight:bold;transform-origin:0 50%;transform:scaleX(1.0500);">SFIs</span>
<span style="left:510.9px;top:1735.4px;font-size:18.0px;line-height:18.0px;color:#1f3864;font-weight:bold;transform-origin:100% 50%;transform:translateX(-100%) scaleX(1.1900);">426,321.04</span>
<span style="left:633.7px;top:1735.4px;font-size:18.0px;line-height:18.0px;color:#1f3864;font-weight:bold;transform-origin:100% 50%;transform:translateX(-100%) scaleX(1.1900);">7%</span>
<span style="left:804.4px;top:1735.4px;font-size:18.0px;line-height:18.0px;color:#1f3864;font-weight:bold;transform-origin:100% 50%;transform:translateX(-100%) scaleX(1.1900);">-6,048.01</span>
<span style="left:138.2px;top:1780.4px;font-size:18.0px;line-height:18.0px;color:#1f3864;font-weight:bold;transform-origin:0 50%;transform:scaleX(1.0500);">Others</span>
<span style="left:510.9px;top:1780.4px;font-size:18.0px;line-height:18.0px;color:#1f3864;font-weight:bold;transform-origin:100% 50%;transform:translateX(-100%) scaleX(1.1900);">13,629.55</span>
<span style="left:633.7px;top:1780.4px;font-size:18.0px;line-height:18.0px;color:#1f3864;font-weight:bold;transform-origin:100% 50%;transform:translateX(-100%) scaleX(1.1900);">0%</span>
<span style="left:804.4px;top:1780.4px;font-size:18.0px;line-height:18.0px;color:#1f3864;font-weight:bold;transform-origin:100% 50%;transform:translateX(-100%) scaleX(1.1900);">-1,013.95</span>
<span style="left:210.0px;top:1814.0px;font-size:18.0px;line-height:18.0px;color:#1f3864;font-weight:bold;transform:translateX(-50%) scaleX(1.0500);">Total</span>
<span style="left:510.9px;top:1814.0px;font-size:18.0px;line-height:18.0px;color:#1f3864;font-weight:bold;transform-origin:100% 50%;transform:translateX(-100%) scaleX(1.1900);">6,369,331.31</span>
<span style="left:633.7px;top:1814.0px;font-size:18.0px;line-height:18.0px;color:#1f3864;font-weight:bold;transform-origin:100% 50%;transform:translateX(-100%) scaleX(1.1900);">100%</span>
<span style="left:804.4px;top:1814.0px;font-size:18.0px;line-height:18.0px;color:#1f3864;font-weight:bold;transform-origin:100% 50%;transform:translateX(-100%) scaleX(1.1900);">94,480.81</span>
<span style="left:545.0px;top:1854.8px;font-size:18.0px;line-height:18.0px;color:#000;transform-origin:0 50%;transform:scaleX(0.9657);">Source : PDMO as of Sep 2017</span>
<div style="left:884.4px;top:1295.8px;width:585.6px;height:553.7px;background:#fff;border:4px solid #e36c09;"></div>
<div style="left:888.0px;top:1299.5px;width:578.0px;height:65.2px;background:#f79646;"></div>
<div style="left:886.0px;top:1364.0px;width:582.0px;height:3.0px;background:#e36c09;"></div>
<span style="left:1177.2px;top:1306.0px;font-size:27.5px;line-height:27.5px;color:#000;font-weight:bold;transform:translateX(-50%) scaleX(1.0909);">GOVT Bond</span>
<span style="left:1177.5px;top:1343.2px;font-size:17.0px;line-height:17.0px;color:#000;transform:translateX(-50%) scaleX(1.0467);">Classified by Type of Investors</span>
<svg style="left:884px;top:1296px;width:586px;height:554px" viewBox="884 1296 586 554"><path d="M1185.0 1644.5 L1185.0 1452.5 A192.0 192.0 0 0 1 1375.5 1620.9 Z" fill="#13264a" stroke="#fff" stroke-width="3"/><path d="M1185.0 1644.5 L1375.5 1620.9 A192.0 192.0 0 0 1 1171.3 1836.0 Z" fill="#376092" stroke="#fff" stroke-width="3"/><path d="M1185.0 1644.5 L1171.3 1836.0 A192.0 192.0 0 0 1 1012.7 1729.3 Z" fill="#fe0000" stroke="#fff" stroke-width="3"/><path d="M1185.0 1644.5 L1012.7 1729.3 A192.0 192.0 0 0 1 1009.9 1565.8 Z" fill="#4f6228" stroke="#fff" stroke-width="3"/><path d="M1185.0 1644.5 L1009.9 1565.8 A192.0 192.0 0 0 1 1032.2 1528.3 Z" fill="#77933c" stroke="#fff" stroke-width="1"/><path d="M1185.0 1644.5 L1032.2 1528.3 A192.0 192.0 0 0 1 1101.1 1471.8 Z" fill="#00b0f0" stroke="#fff" stroke-width="1"/><path d="M1185.0 1644.5 L1101.1 1471.8 A192.0 192.0 0 0 1 1144.4 1456.8 Z" fill="#ccc1da" stroke="#fff" stroke-width="1"/><path d="M1185.0 1644.5 L1144.4 1456.8 A192.0 192.0 0 0 1 1162.6 1453.8 Z" fill="#92d050" stroke="#fff" stroke-width="1"/><path d="M1185.0 1644.5 L1162.6 1453.8 A192.0 192.0 0 0 1 1176.3 1452.7 Z" fill="#ffc000" stroke="#fff" stroke-width="1"/><path d="M1185.0 1644.5 L1176.3 1452.7 A192.0 192.0 0 0 1 1185.0 1452.5 Z" fill="#b3a2c7" stroke="#fff" stroke-width="1"/><g fill="none" stroke="#404040" stroke-width="1.2"><path d="M1143.7 1408.9 H1151.6 L1153.6 1453.4"/><path d="M1193 1425.8 L1183.2 1426.6 L1170.1 1452.2"/><path d="M1297.4 1411.2 L1287.6 1412 L1182.4 1452.2"/></g></svg>
<span style="left:1132.0px;top:1375.3px;font-size:15.5px;line-height:15.5px;color:#404040;transform:translateX(-50%) scaleX(0.9800);">Mutual Funds</span>
<span style="left:1143.0px;top:1395.8px;font-size:15.5px;line-height:15.5px;color:#404040;transform-origin:100% 50%;transform:translateX(-100%) scaleX(0.9800);">2%</span>
<span style="left:1203.0px;top:1392.9px;font-size:15.5px;line-height:15.5px;color:#404040;transform:translateX(-50%) scaleX(0.9800);">Other</span>
<span style="left:1203.0px;top:1412.7px;font-size:15.5px;line-height:15.5px;color:#404040;transform:translateX(-50%) scaleX(0.9800);">1%</span>
<span style="left:1340.0px;top:1377.9px;font-size:15.5px;line-height:15.5px;color:#404040;transform:translateX(-50%) scaleX(0.9800);">Non- profit</span>
<span style="left:1340.0px;top:1398.1px;font-size:15.5px;line-height:15.5px;color:#404040;transform:translateX(-50%) scaleX(0.9800);">organization</span>
<span style="left:1340.0px;top:1418.6px;font-size:15.5px;line-height:15.5px;color:#404040;transform:translateX(-50%) scaleX(0.9800);">1%</span>
<span style="left:1109.5px;top:1418.9px;font-size:15.5px;line-height:15.5px;color:#404040;transform:translateX(-50%) scaleX(0.9800);">Household</span>
<span style="left:1109.5px;top:1439.5px;font-size:15.5px;line-height:15.5px;color:#404040;transform:translateX(-50%) scaleX(0.9800);">4%</span>
<span style="left:981.0px;top:1487.6px;font-size:15.5px;line-height:15.5px;color:#404040;transform:translateX(-50%) scaleX(0.9800);">Financial</span>
<span style="left:981.0px;top:1507.7px;font-size:15.5px;line-height:15.5px;color:#404040;transform:translateX(-50%) scaleX(0.9800);">Institution</span>
<span style="left:981.0px;top:1527.8px;font-size:15.5px;line-height:15.5px;color:#404040;transform:translateX(-50%) scaleX(0.9800);">3%</span>
<span style="left:1082.0px;top:1499.4px;font-size:15.5px;line-height:15.5px;color:#404040;transform:translateX(-50%) scaleX(0.9800);">Bot</span>
<span style="left:1082.0px;top:1519.5px;font-size:15.5px;line-height:15.5px;color:#404040;transform:translateX(-50%) scaleX(0.9800);">8%</span>
<span style="left:1279.0px;top:1517.5px;font-size:15.5px;line-height:15.5px;color:#f2f2f2;transform:translateX(-50%) scaleX(0.9800);">Contractual</span>
<span style="left:1279.0px;top:1537.6px;font-size:15.5px;line-height:15.5px;color:#f2f2f2;transform:translateX(-50%) scaleX(0.9800);">Funds</span>
<span style="left:1279.0px;top:1557.3px;font-size:15.5px;line-height:15.5px;color:#f2f2f2;transform:translateX(-50%) scaleX(0.9800);">23%</span>
<span style="left:1038.5px;top:1625.5px;font-size:15.5px;line-height:15.5px;color:#f2f2f2;transform:translateX(-50%) scaleX(0.9800);">Depository</span>
<span style="left:1038.5px;top:1645.2px;font-size:15.5px;line-height:15.5px;color:#f2f2f2;transform:translateX(-50%) scaleX(0.9800);">Corporation</span>
<span style="left:1038.5px;top:1664.9px;font-size:15.5px;line-height:15.5px;color:#f2f2f2;transform:translateX(-50%) scaleX(0.9800);">14%</span>
<span style="left:1297.4px;top:1724.0px;font-size:15.5px;line-height:15.5px;color:#f2f2f2;transform:translateX(-50%) scaleX(0.9800);">Insurance</span>
<span style="left:1297.4px;top:1744.5px;font-size:15.5px;line-height:15.5px;color:#f2f2f2;transform:translateX(-50%) scaleX(0.9800);">Company</span>
<span style="left:1297.4px;top:1764.2px;font-size:15.5px;line-height:15.5px;color:#f2f2f2;transform:translateX(-50%) scaleX(0.9800);">28%</span>
<span style="left:1096.5px;top:1764.6px;font-size:15.5px;line-height:15.5px;color:#f2f2f2;transform:translateX(-50%) scaleX(0.9800);">NR</span>
<span style="left:1096.5px;top:1785.1px;font-size:15.5px;line-height:15.5px;color:#f2f2f2;transform:translateX(-50%) scaleX(0.9800);">16%</span>
<span style="left:1222.6px;top:1854.8px;font-size:18.0px;line-height:18.0px;color:#000;transform-origin:0 50%;transform:scaleX(0.9684);">Source : BOT as of Sep 2017</span>
<div style="left:1510.0px;top:1296.6px;width:718.7px;height:68.7px;background:#f79646;"></div>
<span style="left:1713.0px;top:1317.5px;font-size:28.5px;line-height:28.5px;color:#000;font-weight:bold;transform-origin:0 50%;transform:scaleX(1.0948);">GOVT Debt Portfolio ☐</span>
<div style="left:1532.7px;top:1388.0px;width:661.3px;height:458.6px;background:#fff;box-shadow:0 0 3px #ccc;"></div>
<div style="left:1534.0px;top:1466.3px;width:657.8px;height:380.3px;background:transparent;border:1.3px solid #a6a6a6;"></div>
<span style="left:1864.6px;top:1397.3px;font-size:21.0px;line-height:21.0px;color:#000;transform:translateX(-50%) scaleX(1.0418);">ATM, ATR, Norminal Cost of Debt</span>
<span style="left:1864.6px;top:1426.7px;font-size:21.0px;line-height:21.0px;color:#000;transform:translateX(-50%) scaleX(1.0720);">Goverment Debt Portfolio</span>
<span style="left:1545.5px;top:1444.1px;font-size:14.5px;line-height:14.5px;color:#404040;transform-origin:0 50%;transform:scaleX(0.9800);">Year</span>
<span style="left:2153.8px;top:1448.7px;font-size:14.5px;line-height:14.5px;color:#404040;transform-origin:0 50%;transform:scaleX(0.9800);">%</span>
<span style="left:1580.0px;top:1476.1px;font-size:14.0px;line-height:14.0px;color:#404040;transform-origin:100% 50%;transform:translateX(-100%) scaleX(1.0500);">12.00</span>
<span style="left:1580.0px;top:1510.4px;font-size:14.0px;line-height:14.0px;color:#404040;transform-origin:100% 50%;transform:translateX(-100%) scaleX(1.0500);">11.50</span>
<span style="left:1580.0px;top:1544.6px;font-size:14.0px;line-height:14.0px;color:#404040;transform-origin:100% 50%;transform:translateX(-100%) scaleX(1.0500);">11.00</span>
<span style="left:1580.0px;top:1578.8px;font-size:14.0px;line-height:14.0px;color:#404040;transform-origin:100% 50%;transform:translateX(-100%) scaleX(1.0500);">10.50</span>
<span style="left:1580.0px;top:1613.0px;font-size:14.0px;line-height:14.0px;color:#404040;transform-origin:100% 50%;transform:translateX(-100%) scaleX(1.0500);">10.00</span>
<span style="left:1580.0px;top:1647.3px;font-size:14.0px;line-height:14.0px;color:#404040;transform-origin:100% 50%;transform:translateX(-100%) scaleX(1.0500);">9.50</span>
<span style="left:1580.0px;top:1681.5px;font-size:14.0px;line-height:14.0px;color:#404040;transform-origin:100% 50%;transform:translateX(-100%) scaleX(1.0500);">9.00</span>
<span style="left:1580.0px;top:1715.7px;font-size:14.0px;line-height:14.0px;color:#404040;transform-origin:100% 50%;transform:translateX(-100%) scaleX(1.0500);">8.50</span>
<span style="left:1580.0px;top:1749.9px;font-size:14.0px;line-height:14.0px;color:#404040;transform-origin:100% 50%;transform:translateX(-100%) scaleX(1.0500);">8.00</span>
<span style="left:2163.3px;top:1476.1px;font-size:14.0px;line-height:14.0px;color:#404040;transform-origin:0 50%;transform:scaleX(1.0500);">4.2</span>
<span style="left:2163.3px;top:1515.3px;font-size:14.0px;line-height:14.0px;color:#404040;transform-origin:0 50%;transform:scaleX(1.0500);">4.1</span>
<span style="left:2163.3px;top:1554.4px;font-size:14.0px;line-height:14.0px;color:#404040;transform-origin:0 50%;transform:scaleX(1.0500);">4</span>
<span style="left:2163.3px;top:1593.5px;font-size:14.0px;line-height:14.0px;color:#404040;transform-origin:0 50%;transform:scaleX(1.0500);">3.9</span>
<span style="left:2163.3px;top:1632.6px;font-size:14.0px;line-height:14.0px;color:#404040;transform-origin:0 50%;transform:scaleX(1.0500);">3.8</span>
<span style="left:2163.3px;top:1671.7px;font-size:14.0px;line-height:14.0px;color:#404040;transform-origin:0 50%;transform:scaleX(1.0500);">3.7</span>
<span style="left:2163.3px;top:1710.8px;font-size:14.0px;line-height:14.0px;color:#404040;transform-origin:0 50%;transform:scaleX(1.0500);">3.6</span>
<span style="left:2163.3px;top:1749.9px;font-size:14.0px;line-height:14.0px;color:#404040;transform-origin:0 50%;transform:scaleX(1.0500);">3.5</span>
<svg style="left:1532px;top:1466px;width:662px;height:382px" viewBox="1532 1466 662 382"><g stroke="#7f7f7f" stroke-width="1.2" fill="none"><path d="M1595.7 1482.8 V1756.6 H2149.1 V1482.8"/><path d="M1595.7 1482.8 h-6"/><path d="M1595.7 1517.0 h-6"/><path d="M1595.7 1551.2 h-6"/><path d="M1595.7 1585.5 h-6"/><path d="M1595.7 1619.7 h-6"/><path d="M1595.7 1653.9 h-6"/><path d="M1595.7 1688.1 h-6"/><path d="M1595.7 1722.4 h-6"/><path d="M1595.7 1756.6 h-6"/><path d="M2149.1 1482.8 h6"/><path d="M2149.1 1521.9 h6"/><path d="M2149.1 1561.0 h6"/><path d="M2149.1 1600.1 h6"/><path d="M2149.1 1639.3 h6"/><path d="M2149.1 1678.4 h6"/><path d="M2149.1 1717.5 h6"/><path d="M2149.1 1756.6 h6"/><path d="M1595.7 1756.6 v5"/><path d="M1625.6 1756.6 v5"/><path d="M1655.5 1756.6 v5"/><path d="M1685.4 1756.6 v5"/><path d="M1715.4 1756.6 v5"/><path d="M1745.3 1756.6 v5"/><path d="M1775.2 1756.6 v5"/><path d="M1805.1 1756.6 v5"/><path d="M1835.0 1756.6 v5"/><path d="M1864.9 1756.6 v5"/><path d="M1894.8 1756.6 v5"/><path d="M1924.7 1756.6 v5"/><path d="M1954.7 1756.6 v5"/><path d="M1984.6 1756.6 v5"/><path d="M2014.5 1756.6 v5"/><path d="M2044.4 1756.6 v5"/><path d="M2074.3 1756.6 v5"/><path d="M2104.2 1756.6 v5"/><path d="M2134.1 1756.6 v5"/></g><polyline points="1603.1,1690.8 1618.0,1684.3 1633.0,1675.4 1648.0,1672.7 1662.9,1672.3 1677.9,1675.1 1692.8,1676.0 1707.8,1679.7 1722.7,1658.4 1737.7,1658.4 1752.7,1642.7 1767.6,1641.8 1782.6,1644.6 1797.5,1658.4 1812.5,1667.7 1827.4,1668.0 1842.4,1654.7 1857.4,1657.5 1872.3,1653.3 1887.3,1652.0 1902.3,1640.9 1917.3,1627.0 1932.2,1615.9 1947.2,1600.2 1962.2,1597.5 1977.1,1589.2 1992.1,1591.0 2007.1,1582.7 2022.0,1582.7 2037.0,1602.1 2051.9,1597.5 2066.9,1603.4 2081.9,1604.9 2096.8,1543.5 2111.8,1541.7 2126.8,1542.4 2141.7,1552.2" fill="none" stroke="#4f81bd" stroke-width="4.8" stroke-linejoin="round" stroke-linecap="round"/><polyline points="1603.1,1738.2 1618.0,1732.0 1633.0,1723.1 1648.0,1715.3 1662.9,1716.1 1677.9,1716.8 1692.8,1716.8 1707.8,1719.8 1722.7,1699.1 1737.7,1700.6 1752.7,1683.9 1767.6,1683.4 1782.6,1684.7 1797.5,1694.5 1812.5,1702.8 1827.4,1703.7 1842.4,1689.8 1857.4,1692.6 1872.3,1686.1 1887.3,1684.7 1902.3,1673.2 1917.3,1661.2 1932.2,1648.3 1947.2,1633.5 1962.2,1629.8 1977.1,1623.0 1992.1,1625.6 2007.1,1617.2 2022.0,1617.2 2037.0,1636.3 2051.9,1630.7 2066.9,1637.2 2081.9,1637.7 2096.8,1579.4 2111.8,1575.7 2126.8,1572.5 2141.7,1582.3" fill="none" stroke="#9bbb59" stroke-width="4.8" stroke-linejoin="round" stroke-linecap="round"/><polyline points="1603.1,1678.8 1618.0,1656.6 1633.0,1634.4 1648.0,1613.2 1662.9,1597.5 1677.9,1601.5 1692.8,1610.4 1707.8,1619.3 1722.7,1601.2 1737.7,1592.9 1752.7,1601.2 1767.6,1598.4 1782.6,1600.2 1797.5,1609.5 1812.5,1628.0 1827.4,1634.0 1842.4,1621.1 1857.4,1621.5 1872.3,1619.3 1887.3,1616.9 1902.3,1602.1 1917.3,1630.7 1932.2,1633.5 1947.2,1638.5 1962.2,1641.4 1977.1,1637.2 1992.1,1649.2 2007.1,1647.0 2022.0,1647.0 2037.0,1681.5 2051.9,1693.5 2066.9,1728.6 2081.9,1728.6 2096.8,1724.9 2111.8,1724.9 2126.8,1728.6 2141.7,1740.6" fill="none" stroke="#c0504d" stroke-width="4.8" stroke-linejoin="round" stroke-linecap="round"/><g stroke-width="3.5"><path d="M1676 1823.5 H1709" stroke="#4f81bd"/><path d="M1792.5 1823.5 H1825.7" stroke="#9bbb59"/><path d="M1906.3 1823.5 H1937" stroke="#c0504d"/></g></svg>
<span style="left:1608.2px;top:1755.2px;font-size:13.3px;line-height:13.3px;color:#000;font-weight:bold;transform:translateX(-100%) rotate(-45deg) scaleX(0.950);transform-origin:100% 50%;">Sep-14</span>
<span style="left:1638.1px;top:1755.2px;font-size:13.3px;line-height:13.3px;color:#000;font-weight:bold;transform:translateX(-100%) rotate(-45deg) scaleX(0.950);transform-origin:100% 50%;">Nov-14</span>
<span style="left:1668.0px;top:1755.2px;font-size:13.3px;line-height:13.3px;color:#000;font-weight:bold;transform:translateX(-100%) rotate(-45deg) scaleX(0.950);transform-origin:100% 50%;">Jan-15</span>
<span style="left:1697.9px;top:1755.2px;font-size:13.3px;line-height:13.3px;color:#000;font-weight:bold;transform:translateX(-100%) rotate(-45deg) scaleX(0.950);transform-origin:100% 50%;">Mar-15</span>
<span style="left:1727.8px;top:1755.2px;font-size:13.3px;line-height:13.3px;color:#000;font-weight:bold;transform:translateX(-100%) rotate(-45deg) scaleX(0.950);transform-origin:100% 50%;">May-15</span>
<span style="left:1757.7px;top:1755.2px;font-size:13.3px;line-height:13.3px;color:#000;font-weight:bold;transform:translateX(-100%) rotate(-45deg) scaleX(0.950);transform-origin:100% 50%;">Jul-15</span>
<span style="left:1787.7px;top:1755.2px;font-size:13.3px;line-height:13.3px;color:#000;font-weight:bold;transform:translateX(-100%) rotate(-45deg) scaleX(0.950);transform-origin:100% 50%;">Sep-15</span>
<span style="left:1817.6px;top:1755.2px;font-size:13.3px;line-height:13.3px;color:#000;font-weight:bold;transform:translateX(-100%) rotate(-45deg) scaleX(0.950);transform-origin:100% 50%;">Nov-15</span>
<span style="left:1847.5px;top:1755.2px;font-size:13.3px;line-height:13.3px;color:#000;font-weight:bold;transform:translateX(-100%) rotate(-45deg) scaleX(0.950);transform-origin:100% 50%;">Jan-16</span>
<span style="left:1877.4px;top:1755.2px;font-size:13.3px;line-height:13.3px;color:#000;font-weight:bold;transform:translateX(-100%) rotate(-45deg) scaleX(0.950);transform-origin:100% 50%;">Mar-16</span>
<span style="left:1907.3px;top:1755.2px;font-size:13.3px;line-height:13.3px;color:#000;font-weight:bold;transform:translateX(-100%) rotate(-45deg) scaleX(0.950);transform-origin:100% 50%;">May-16</span>
<span style="left:1937.2px;top:1755.2px;font-size:13.3px;line-height:13.3px;color:#000;font-weight:bold;transform:translateX(-100%) rotate(-45deg) scaleX(0.950);transform-origin:100% 50%;">Jul-16</span>
<span style="left:1967.1px;top:1755.2px;font-size:13.3px;line-height:13.3px;color:#000;font-weight:bold;transform:translateX(-100%) rotate(-45deg) scaleX(0.950);transform-origin:100% 50%;">Sep-16</span>
<span style="left:1997.1px;top:1755.2px;font-size:13.3px;line-height:13.3px;color:#000;font-weight:bold;transform:translateX(-100%) rotate(-45deg) scaleX(0.950);transform-origin:100% 50%;">Nov-16</span>
<span style="left:2027.0px;top:1755.2px;font-size:13.3px;line-height:13.3px;color:#000;font-weight:bold;transform:translateX(-100%) rotate(-45deg) scaleX(0.950);transform-origin:100% 50%;">Jan-17</span>
<span style="left:2056.9px;top:1755.2px;font-size:13.3px;line-height:13.3px;color:#000;font-weight:bold;transform:translateX(-100%) rotate(-45deg) scaleX(0.950);transform-origin:100% 50%;">Mar-17</span>
<span style="left:2086.8px;top:1755.2px;font-size:13.3px;line-height:13.3px;color:#000;font-weight:bold;transform:translateX(-100%) rotate(-45deg) scaleX(0.950);transform-origin:100% 50%;">May-17</span>
<span style="left:2116.7px;top:1755.2px;font-size:13.3px;line-height:13.3px;color:#000;font-weight:bold;transform:translateX(-100%) rotate(-45deg) scaleX(0.950);transform-origin:100% 50%;">Jul-17</span>
<span style="left:2146.6px;top:1755.2px;font-size:13.3px;line-height:13.3px;color:#000;font-weight:bold;transform:translateX(-100%) rotate(-45deg) scaleX(0.950);transform-origin:100% 50%;">Sep-17</span>
<span style="left:1710.0px;top:1815.7px;font-size:14.0px;line-height:14.0px;color:#404040;transform-origin:0 50%;transform:scaleX(0.9280);">ATM (LHS)</span>
<span style="left:1826.6px;top:1815.7px;font-size:14.0px;line-height:14.0px;color:#404040;transform-origin:0 50%;transform:scaleX(0.9048);">ATR (LHS)</span>
<span style="left:1938.0px;top:1815.7px;font-size:14.0px;line-height:14.0px;color:#404040;transform-origin:0 50%;transform:scaleX(0.9337);">Average cost (RHS)</span>
<span style="left:1929.5px;top:1854.2px;font-size:18.0px;line-height:18.0px;color:#000;transform-origin:0 50%;transform:scaleX(0.9645);">Source : PDMO  as of Sep 2017</span>
<div style="left:134.3px;top:1919.0px;width:547.1px;height:69.2px;background:#1f497d;"></div>
<span style="left:405.7px;top:1938.2px;font-size:30.0px;line-height:30.0px;color:#fff;font-weight:bold;transform:translateX(-50%) scaleX(1.0380);">Bond Market Cap. Size</span>
<div style="left:681.4px;top:1919.0px;width:478.6px;height:67.5px;background:#ffff00;"></div>
<span style="left:921.8px;top:1939.4px;font-size:28.0px;line-height:28.0px;color:#000;font-weight:bold;transform:translateX(-50%) scaleX(1.1689);">11,274,916 THB Mil.</span>
<span style="left:145.7px;top:2009.1px;font-size:14.5px;line-height:14.5px;color:#000;font-weight:bold;transform-origin:0 50%;transform:scaleX(0.9575);">% Share of GDP</span>
<div style="left:135.0px;top:2033.4px;width:1025.0px;height:748.1px;background:#dadada;"></div>
<div style="left:154.0px;top:2035.0px;width:527.4px;height:402.7px;background:#fff;"></div>
<span style="left:203.9px;top:2045.3px;font-size:14.0px;line-height:14.0px;color:#262626;transform-origin:100% 50%;transform:translateX(-100%) scaleX(0.9200);">140%</span>
<span style="left:203.9px;top:2085.5px;font-size:14.0px;line-height:14.0px;color:#262626;transform-origin:100% 50%;transform:translateX(-100%) scaleX(0.9200);">120%</span>
<span style="left:203.9px;top:2125.6px;font-size:14.0px;line-height:14.0px;color:#262626;transform-origin:100% 50%;transform:translateX(-100%) scaleX(0.9200);">100%</span>
<span style="left:203.9px;top:2165.8px;font-size:14.0px;line-height:14.0px;color:#262626;transform-origin:100% 50%;transform:translateX(-100%) scaleX(0.9200);">80%</span>
<span style="left:203.9px;top:2205.9px;font-size:14.0px;line-height:14.0px;color:#262626;transform-origin:100% 50%;transform:translateX(-100%) scaleX(0.9200);">60%</span>
<span style="left:203.9px;top:2246.1px;font-size:14.0px;line-height:14.0px;color:#262626;transform-origin:100% 50%;transform:translateX(-100%) scaleX(0.9200);">40%</span>
<span style="left:203.9px;top:2286.2px;font-size:14.0px;line-height:14.0px;color:#262626;transform-origin:100% 50%;transform:translateX(-100%) scaleX(0.9200);">20%</span>
<span style="left:203.9px;top:2326.3px;font-size:14.0px;line-height:14.0px;color:#262626;transform-origin:100% 50%;transform:translateX(-100%) scaleX(0.9200);">0%</span>
<svg style="left:154px;top:2035px;width:560px;height:403px" viewBox="154 2035 560 403"><defs><linearGradient id="arG" x1="0" y1="0" x2="0" y2="1"><stop offset="0" stop-color="#e02020"/><stop offset="1" stop-color="#7a0000"/></linearGradient><radialGradient id="bbG" cx="40%" cy="30%" r="75%"><stop offset="0" stop-color="#9a9a9a"/><stop offset="1" stop-color="#3a3a3a"/></radialGradient></defs><path d="M218.2 2052.9 V2333.9 H653.9" stroke="#a6a6a6" stroke-width="1.3" fill="none"/><polyline points="224.6,2188.6 237.5,2162.5 250.3,2144.6 263.1,2131.4 275.9,2125.0 288.7,2076.8 301.5,2100.0 314.3,2112.5 327.1,2146.4 339.9,2165.0 352.8,2164.3 365.6,2175.0 378.4,2176.8 391.2,2177.9 404.0,2185.7 416.8,2186.8 429.6,2173.2 442.4,2163.6 455.2,2162.9 468.0,2148.2 480.9,2134.3 493.7,2130.4 506.5,2120.7 519.3,2122.1 532.1,2138.6 544.9,2138.6 557.7,2139.3 570.5,2143.6 583.3,2141.1 596.2,2142.9 609.0,2142.9 621.8,2141.1 634.6,2138.2" fill="none" stroke="#4f81bd" stroke-width="4.2" stroke-linejoin="round" stroke-linecap="round"/><polyline points="224.6,2229.3 237.5,2123.2 250.3,2151.8 263.1,2164.3 275.9,2214.3 288.7,2285.7 301.5,2278.6 314.3,2237.5 327.1,2282.1 339.9,2271.4 352.8,2260.7 365.6,2173.2 378.4,2193.6 391.2,2189.3 404.0,2203.6 416.8,2177.9 429.6,2255.4 442.4,2205.4 455.2,2167.9 468.0,2174.3 480.9,2124.3 493.7,2120.7 506.5,2094.6 519.3,2091.1 532.1,2116.1 544.9,2116.1 557.7,2119.6 570.5,2119.6 583.3,2121.4 596.2,2123.2 609.0,2122.1 621.8,2122.1 634.6,2117.1" fill="none" stroke="#ffc000" stroke-width="4.2" stroke-linejoin="round" stroke-linecap="round"/><polyline points="224.6,2319.6 237.5,2317.1 250.3,2315.4 263.1,2313.6 275.9,2311.4 288.7,2310.7 301.5,2292.9 314.3,2274.3 327.1,2267.9 339.9,2260.7 352.8,2249.3 365.6,2249.3 378.4,2249.3 391.2,2236.8 404.0,2225.0 416.8,2215.0 429.6,2220.7 442.4,2198.2 455.2,2194.6 468.0,2199.3 480.9,2182.1 493.7,2182.9 506.5,2182.9 519.3,2179.3 532.1,2179.3 544.9,2182.9 557.7,2182.1 570.5,2179.3 583.3,2182.9 596.2,2181.1 609.0,2183.9 621.8,2185.7 634.6,2186.8" fill="none" stroke="#ff0000" stroke-width="4.2" stroke-linejoin="round" stroke-linecap="round"/><rect x="273.6" y="2036" width="39" height="297" fill="none" stroke="#404040" stroke-width="3" stroke-dasharray="10 5"/><path d="M634.3 2175 L695.7 2193 L634.3 2210 Z" fill="url(#arG)"/><path d="M318 2327 L345 2305 L356 2320 Z" fill="#5a5a5a"/><ellipse cx="370" cy="2300.5" rx="32" ry="26.5" fill="url(#bbG)"/><g stroke-width="3.5"><path d="M204 2414.5 H236" stroke="#4f81bd"/><path d="M357.5 2414.5 H389.6" stroke="#ffc000"/><path d="M483.6 2414.5 H515.7" stroke="#ff0000"/></g></svg>
<span style="left:279.0px;top:2057.5px;font-size:12.5px;line-height:12.5px;color:#5b8bd0;font-weight:bold;font-family:'Liberation Serif', serif;transform-origin:0 50%;transform:scaleX(1.0600);">128<em style="font-size:8px;font-weight:bold">%</em></span>
<span style="left:285.0px;top:2249.6px;font-size:12.5px;line-height:12.5px;color:#f0b000;font-weight:bold;font-family:'Liberation Serif', serif;transform-origin:0 50%;transform:scaleX(1.0600);">24<em style="font-size:8px;font-weight:bold">%</em></span>
<span style="left:277.0px;top:2316.2px;font-size:13.5px;line-height:13.5px;color:#c00000;font-weight:bold;font-family:'Liberation Serif', serif;transform-origin:0 50%;transform:scaleX(1.0600);">12<em style="font-size:8px;font-weight:bold">%</em></span>
<span style="left:634.3px;top:2109.0px;font-size:16.0px;line-height:16.0px;color:#f0b000;transform-origin:0 50%;transform:scaleX(0.9433);">108%</span>
<span style="left:637.0px;top:2130.3px;font-size:16.0px;line-height:16.0px;color:#5b8bd0;font-weight:bold;transform-origin:0 50%;transform:scaleX(0.9678);">97%</span>
<span style="left:638.6px;top:2183.8px;font-size:17.0px;line-height:17.0px;color:#fff;font-weight:bold;transform-origin:0 50%;transform:scaleX(1.1107);">73%</span>
<span style="left:370.0px;top:2280.4px;font-size:10.5px;line-height:10.5px;color:#fff;font-weight:bold;transform:translateX(-50%) scaleX(0.9564);">Asian Fin.</span>
<span style="left:370.0px;top:2294.7px;font-size:10.5px;line-height:10.5px;color:#fff;font-weight:bold;transform:translateX(-50%) scaleX(0.8908);">Crisis</span>
<span style="left:229.8px;top:2331.5px;font-size:15.5px;line-height:15.5px;color:#1a1a1a;transform:translateX(-100%) rotate(-90deg) scaleX(0.820);transform-origin:100% 84.65%;">1992</span>
<span style="left:242.6px;top:2331.5px;font-size:15.5px;line-height:15.5px;color:#1a1a1a;transform:translateX(-100%) rotate(-90deg) scaleX(0.820);transform-origin:100% 84.65%;">1993</span>
<span style="left:255.4px;top:2331.5px;font-size:15.5px;line-height:15.5px;color:#1a1a1a;transform:translateX(-100%) rotate(-90deg) scaleX(0.820);transform-origin:100% 84.65%;">1994</span>
<span style="left:268.3px;top:2331.5px;font-size:15.5px;line-height:15.5px;color:#1a1a1a;transform:translateX(-100%) rotate(-90deg) scaleX(0.820);transform-origin:100% 84.65%;">1995</span>
<span style="left:281.1px;top:2331.5px;font-size:15.5px;line-height:15.5px;color:#1a1a1a;transform:translateX(-100%) rotate(-90deg) scaleX(0.820);transform-origin:100% 84.65%;">1996</span>
<span style="left:293.9px;top:2331.5px;font-size:15.5px;line-height:15.5px;color:#1a1a1a;transform:translateX(-100%) rotate(-90deg) scaleX(0.820);transform-origin:100% 84.65%;">1997</span>
<span style="left:306.7px;top:2331.5px;font-size:15.5px;line-height:15.5px;color:#1a1a1a;transform:translateX(-100%) rotate(-90deg) scaleX(0.820);transform-origin:100% 84.65%;">1998</span>
<span style="left:319.5px;top:2331.5px;font-size:15.5px;line-height:15.5px;color:#1a1a1a;transform:translateX(-100%) rotate(-90deg) scaleX(0.820);transform-origin:100% 84.65%;">1999</span>
<span style="left:332.3px;top:2331.5px;font-size:15.5px;line-height:15.5px;color:#1a1a1a;transform:translateX(-100%) rotate(-90deg) scaleX(0.820);transform-origin:100% 84.65%;">2000</span>
<span style="left:345.1px;top:2331.5px;font-size:15.5px;line-height:15.5px;color:#1a1a1a;transform:translateX(-100%) rotate(-90deg) scaleX(0.820);transform-origin:100% 84.65%;">2001</span>
<span style="left:358.0px;top:2331.5px;font-size:15.5px;line-height:15.5px;color:#1a1a1a;transform:translateX(-100%) rotate(-90deg) scaleX(0.820);transform-origin:100% 84.65%;">2002</span>
<span style="left:370.8px;top:2331.5px;font-size:15.5px;line-height:15.5px;color:#1a1a1a;transform:translateX(-100%) rotate(-90deg) scaleX(0.820);transform-origin:100% 84.65%;">2003</span>
<span style="left:383.6px;top:2331.5px;font-size:15.5px;line-height:15.5px;color:#1a1a1a;transform:translateX(-100%) rotate(-90deg) scaleX(0.820);transform-origin:100% 84.65%;">2004</span>
<span style="left:396.4px;top:2331.5px;font-size:15.5px;line-height:15.5px;color:#1a1a1a;transform:translateX(-100%) rotate(-90deg) scaleX(0.820);transform-origin:100% 84.65%;">2005</span>
<span style="left:409.2px;top:2331.5px;font-size:15.5px;line-height:15.5px;color:#1a1a1a;transform:translateX(-100%) rotate(-90deg) scaleX(0.820);transform-origin:100% 84.65%;">2006</span>
<span style="left:422.0px;top:2331.5px;font-size:15.5px;line-height:15.5px;color:#1a1a1a;transform:translateX(-100%) rotate(-90deg) scaleX(0.820);transform-origin:100% 84.65%;">2007</span>
<span style="left:434.8px;top:2331.5px;font-size:15.5px;line-height:15.5px;color:#1a1a1a;transform:translateX(-100%) rotate(-90deg) scaleX(0.820);transform-origin:100% 84.65%;">2008</span>
<span style="left:447.7px;top:2331.5px;font-size:15.5px;line-height:15.5px;color:#1a1a1a;transform:translateX(-100%) rotate(-90deg) scaleX(0.820);transform-origin:100% 84.65%;">2009</span>
<span style="left:460.5px;top:2331.5px;font-size:15.5px;line-height:15.5px;color:#1a1a1a;transform:translateX(-100%) rotate(-90deg) scaleX(0.820);transform-origin:100% 84.65%;">2010</span>
<span style="left:473.3px;top:2331.5px;font-size:15.5px;line-height:15.5px;color:#1a1a1a;transform:translateX(-100%) rotate(-90deg) scaleX(0.820);transform-origin:100% 84.65%;">2011</span>
<span style="left:486.1px;top:2331.5px;font-size:15.5px;line-height:15.5px;color:#1a1a1a;transform:translateX(-100%) rotate(-90deg) scaleX(0.820);transform-origin:100% 84.65%;">2012</span>
<span style="left:498.9px;top:2331.5px;font-size:15.5px;line-height:15.5px;color:#1a1a1a;transform:translateX(-100%) rotate(-90deg) scaleX(0.820);transform-origin:100% 84.65%;">2013</span>
<span style="left:511.7px;top:2331.5px;font-size:15.5px;line-height:15.5px;color:#1a1a1a;transform:translateX(-100%) rotate(-90deg) scaleX(0.820);transform-origin:100% 84.65%;">2014</span>
<span style="left:524.5px;top:2331.5px;font-size:15.5px;line-height:15.5px;color:#1a1a1a;transform:translateX(-100%) rotate(-90deg) scaleX(0.820);transform-origin:100% 84.65%;">2015</span>
<span style="left:537.4px;top:2331.5px;font-size:15.5px;line-height:15.5px;color:#1a1a1a;transform:translateX(-100%) rotate(-90deg) scaleX(0.820);transform-origin:100% 84.65%;">2016</span>
<span style="left:550.2px;top:2331.5px;font-size:15.5px;line-height:15.5px;color:#1a1a1a;transform:translateX(-100%) rotate(-90deg) scaleX(0.820);transform-origin:100% 84.65%;">Jan-17</span>
<span style="left:563.0px;top:2331.5px;font-size:15.5px;line-height:15.5px;color:#1a1a1a;transform:translateX(-100%) rotate(-90deg) scaleX(0.820);transform-origin:100% 84.65%;">Feb-17</span>
<span style="left:575.8px;top:2331.5px;font-size:15.5px;line-height:15.5px;color:#1a1a1a;transform:translateX(-100%) rotate(-90deg) scaleX(0.820);transform-origin:100% 84.65%;">Mar-17</span>
<span style="left:588.6px;top:2331.5px;font-size:15.5px;line-height:15.5px;color:#1a1a1a;transform:translateX(-100%) rotate(-90deg) scaleX(0.820);transform-origin:100% 84.65%;">Apr-17</span>
<span style="left:601.4px;top:2331.5px;font-size:15.5px;line-height:15.5px;color:#1a1a1a;transform:translateX(-100%) rotate(-90deg) scaleX(0.820);transform-origin:100% 84.65%;">May-17</span>
<span style="left:614.2px;top:2331.5px;font-size:15.5px;line-height:15.5px;color:#1a1a1a;transform:translateX(-100%) rotate(-90deg) scaleX(0.820);transform-origin:100% 84.65%;">Jun-17</span>
<span style="left:627.1px;top:2331.5px;font-size:15.5px;line-height:15.5px;color:#1a1a1a;transform:translateX(-100%) rotate(-90deg) scaleX(0.820);transform-origin:100% 84.65%;">Jul-17</span>
<span style="left:639.9px;top:2331.5px;font-size:15.5px;line-height:15.5px;color:#1a1a1a;transform:translateX(-100%) rotate(-90deg) scaleX(0.820);transform-origin:100% 84.65%;">Aug-17</span>
<span style="left:652.7px;top:2331.5px;font-size:15.5px;line-height:15.5px;color:#1a1a1a;transform:translateX(-100%) rotate(-90deg) scaleX(0.820);transform-origin:100% 84.65%;">Sep-17</span>
<span style="left:237.0px;top:2408.3px;font-size:14.5px;line-height:14.5px;color:#262626;transform-origin:0 50%;transform:scaleX(0.9042);">Bank Loan /GDP</span>
<span style="left:390.7px;top:2408.3px;font-size:14.5px;line-height:14.5px;color:#262626;transform-origin:0 50%;transform:scaleX(0.9281);">Equity/GDP</span>
<span style="left:517.0px;top:2408.3px;font-size:14.5px;line-height:14.5px;color:#262626;transform-origin:0 50%;transform:scaleX(0.9386);">Bond Market / GDP</span>
<div style="left:152.1px;top:2463.2px;width:517.9px;height:277.5px;background:#fff;"></div>
<svg style="left:140px;top:2452px;width:542px;height:306px" viewBox="140 2452 542 306"><rect x="146.5" y="2459.3" width="528" height="290.7" fill="none" stroke="#ff00ff" stroke-width="3.2" stroke-dasharray="10.5 5.2"/></svg>
<div style="left:158.2px;top:2474.6px;width:501.8px;height:227.9px;background:#ffffcc;"></div>
<div style="left:158.2px;top:2702.0px;width:501.8px;height:1.5px;background:#7f7f7f;"></div>
<div style="left:180.0px;top:2521.1px;width:57.9px;height:181.4px;background:#4f81bd;"></div>
<div style="left:180.0px;top:2502.1px;width:57.9px;height:19.0px;background:#000;"></div>
<div style="left:280.0px;top:2656.8px;width:57.9px;height:45.7px;background:#4f81bd;"></div>
<div style="left:280.0px;top:2618.2px;width:57.9px;height:38.6px;background:#000;"></div>
<div style="left:380.0px;top:2663.2px;width:57.9px;height:39.3px;background:#000;"></div>
<div style="left:480.0px;top:2658.9px;width:57.9px;height:43.6px;background:#000;"></div>
<div style="left:580.0px;top:2613.2px;width:58.9px;height:89.3px;background:#000;"></div>
<span style="left:208.9px;top:2505.4px;font-size:13.0px;line-height:13.0px;color:#ffff00;font-weight:bold;transform:translateX(-50%) scaleX(1.0600);">8%</span>
<span style="left:208.9px;top:2604.2px;font-size:17.0px;line-height:17.0px;color:#fff;font-weight:bold;transform:translateX(-50%) scaleX(1.0872);">80%</span>
<span style="left:311.0px;top:2627.9px;font-size:13.0px;line-height:13.0px;color:#ffff00;font-weight:bold;transform:translateX(-50%) scaleX(1.0756);">17%</span>
<span style="left:308.6px;top:2672.0px;font-size:17.0px;line-height:17.0px;color:#fff;font-weight:bold;transform:translateX(-50%) scaleX(1.0872);">20%</span>
<span style="left:409.3px;top:2677.2px;font-size:13.0px;line-height:13.0px;color:#ffff00;font-weight:bold;transform:translateX(-50%) scaleX(1.0756);">17%</span>
<span style="left:510.0px;top:2674.4px;font-size:13.0px;line-height:13.0px;color:#ffff00;font-weight:bold;transform:translateX(-50%) scaleX(1.0756);">19%</span>
<span style="left:609.3px;top:2652.2px;font-size:13.0px;line-height:13.0px;color:#ffff00;font-weight:bold;transform:translateX(-50%) scaleX(1.0756);">39%</span>
<span style="left:208.2px;top:2716.3px;font-size:14.0px;line-height:14.0px;color:#000;font-weight:bold;transform:translateX(-50%) scaleX(1.0979);">≤1</span>
<span style="left:309.3px;top:2716.3px;font-size:14.0px;line-height:14.0px;color:#000;font-weight:bold;transform:translateX(-50%) scaleX(1.0297);">1&lt;yr≤3</span>
<span style="left:408.6px;top:2716.3px;font-size:14.0px;line-height:14.0px;color:#000;font-weight:bold;transform:translateX(-50%) scaleX(1.0297);">3&lt;yr≤5</span>
<span style="left:509.3px;top:2716.3px;font-size:14.0px;line-height:14.0px;color:#000;font-weight:bold;transform:translateX(-50%) scaleX(1.0676);">5&lt;yr≤10</span>
<span style="left:609.3px;top:2716.3px;font-size:14.0px;line-height:14.0px;color:#000;font-weight:bold;transform:translateX(-50%) scaleX(1.0456);">10&lt;yr≤50</span>
<span style="left:453.9px;top:2486.3px;font-size:20.0px;line-height:20.0px;color:#ff00ff;font-weight:bold;transform-origin:0 50%;transform:scaleX(1.0798);">Maturity Profile</span>
<div style="left:456.0px;top:2510.4px;width:62.9px;height:26.0px;background:#4f81bd;"></div>
<span style="left:486.8px;top:2518.1px;font-size:14.0px;line-height:14.0px;color:#fff;transform:translateX(-50%) scaleX(0.9800);">BOT</span>
<span style="left:527.0px;top:2516.0px;font-size:13.0px;line-height:13.0px;color:#ff00ff;font-weight:bold;transform-origin:0 50%;transform:scaleX(1.0367);">vs</span>
<div style="left:551.0px;top:2510.4px;width:60.8px;height:26.0px;background:#000;"></div>
<span style="left:581.5px;top:2518.1px;font-size:14.0px;line-height:14.0px;color:#ffff00;transform:translateX(-50%) scaleX(0.9800);">GOV</span>
<span style="left:439.0px;top:2545.6px;font-size:14.0px;line-height:14.0px;color:#ff0000;font-weight:bold;transform-origin:0 50%;transform:scaleX(1.0875);">Remark : Excluded P/N , TL</span>
<span style="left:562.0px;top:2760.8px;font-size:18.0px;line-height:18.0px;color:#000;transform-origin:0 50%;transform:scaleX(0.9856);">Source : ThaiBMA as of Nov 17<sup>th</sup>, 2017</span>
<svg style="left:690px;top:1986px;width:480px;height:780px" viewBox="690 1986 480 780">
<defs>
<linearGradient id="gGr" x1="0" y1="0" x2="1" y2="0"><stop offset="0" stop-color="#004c08"/><stop offset="0.18" stop-color="#00730c"/><stop offset="0.62" stop-color="#04a516"/><stop offset="1" stop-color="#007a0e"/></linearGradient>
<linearGradient id="gBl" x1="0" y1="0" x2="1" y2="0"><stop offset="0" stop-color="#072f6b"/><stop offset="0.2" stop-color="#0a56a8"/><stop offset="0.7" stop-color="#1b80d6"/><stop offset="1" stop-color="#0b5cae"/></linearGradient>
<linearGradient id="gSo" x1="0" y1="0" x2="1" y2="0"><stop offset="0" stop-color="#566a8e"/><stop offset="0.25" stop-color="#7f9bc8"/><stop offset="0.7" stop-color="#a3c0ea"/><stop offset="1" stop-color="#7f9fd2"/></linearGradient>
<linearGradient id="gBk" x1="0" y1="0" x2="1" y2="0"><stop offset="0" stop-color="#000"/><stop offset="0.7" stop-color="#141414"/><stop offset="1" stop-color="#000"/></linearGradient>
<linearGradient id="gRd" x1="0" y1="0" x2="0" y2="1"><stop offset="0" stop-color="#8a0000"/><stop offset="0.12" stop-color="#d40000"/><stop offset="0.85" stop-color="#d40000"/><stop offset="1" stop-color="#9a0000"/></linearGradient>
</defs>
<rect x="705.5" y="2032.5" width="450" height="717" rx="16" ry="16" fill="#dadada" stroke="#cc0000" stroke-width="9.5"/>
<rect x="720.6" y="1990.6" width="421.1" height="72.7" fill="url(#gRd)"/>
<!-- black (Govt) -->
<path d="M767.7 2488 V2693 A159.3 26.5 0 0 0 1086.3 2693 V2488 Z" fill="url(#gBk)"/>
<ellipse cx="927" cy="2488" rx="159.3" ry="19" fill="#050505"/>
<path d="M767.7 2488 A159.3 19 0 0 0 1086.3 2488" fill="none" stroke="#d8d8d8" stroke-width="1.2"/>
<!-- BOT blue -->
<path d="M767.7 2318 V2462.5 A159.3 26.5 0 0 0 1086.3 2462.5 V2318 Z" fill="url(#gBl)"/>
<ellipse cx="927" cy="2318" rx="159.3" ry="21" fill="#0f66ba"/>
<path d="M767.7 2318 A159.3 21 0 0 0 1086.3 2318" fill="none" stroke="#cfe3f7" stroke-width="1.2"/>
<!-- SOE disc -->
<path d="M767.7 2256 V2292 A159.3 25 0 0 0 1086.3 2292 V2256 Z" fill="url(#gSo)"/>
<ellipse cx="927" cy="2256" rx="159.3" ry="25" fill="#7b93bd"/>
<path d="M767.7 2256 A159.3 25 0 0 0 1086.3 2256" fill="none" stroke="#eef4fb" stroke-width="1.2"/>
<!-- green Corp -->
<path d="M767.7 2105 V2233 A159.3 26.5 0 0 0 1086.3 2233 V2105 Z" fill="url(#gGr)"/>
<ellipse cx="927" cy="2105" rx="159.3" ry="27.2" fill="#5b2a86"/>
</svg>
<span style="left:930.0px;top:2006.6px;font-size:17.0px;line-height:17.0px;color:#fff;font-weight:bold;transform:translateX(-50%) scaleX(1.0858);">Domestic Bond Market</span>
<span style="left:930.0px;top:2032.3px;font-size:17.0px;line-height:17.0px;color:#fff;font-weight:bold;transform:translateX(-50%) scaleX(1.0270);">Classified by Issuer</span>
<span style="left:850.9px;top:2088.1px;font-size:24.5px;line-height:24.5px;color:#fff;font-weight:bold;transform-origin:0 50%;transform:scaleX(1.0273);">Baht Bond   1<em style="font-size:14px;font-weight:bold">%</em></span>
<span style="left:842.9px;top:2190.5px;font-size:24.5px;line-height:24.5px;color:#fff;font-weight:bold;transform-origin:0 50%;transform:scaleX(1.0329);">Corp Bond <em style="font-size:31px;font-weight:bold">26</em><em style="font-size:17px;font-weight:bold">%</em></span>
<span style="left:855.7px;top:2281.2px;font-size:25.5px;line-height:25.5px;color:#1a1a1a;font-weight:bold;transform-origin:0 50%;transform:scaleX(0.9435);">SOEs Bond 8<em style="font-size:15px;font-weight:bold">%</em></span>
<span style="left:861.5px;top:2308.7px;font-size:19.5px;line-height:19.5px;color:#1a1a1a;font-weight:bold;transform-origin:0 50%;transform:scaleX(1.1864);">848,540 <em style="font-size:12px;font-weight:bold">THB Mil.</em></span>
<span style="left:832.7px;top:2387.1px;font-size:25.5px;line-height:25.5px;color:#fff;font-weight:bold;transform-origin:0 50%;transform:scaleX(1.0577);">BOT Bond <em style="font-size:31px;font-weight:bold">26</em><em style="font-size:17px;font-weight:bold">%</em></span>
<span style="left:829.0px;top:2429.1px;font-size:30.0px;line-height:30.0px;color:#fff;font-weight:bold;transform-origin:0 50%;transform:scaleX(1.0586);">2,983,925 <em style="font-size:14.5px;font-weight:bold">THB Mil.</em></span>
<span style="left:829.0px;top:2572.8px;font-size:25.5px;line-height:25.5px;color:#ffff00;font-weight:bold;transform-origin:0 50%;transform:scaleX(1.1053);">Govt Bond <em style="font-size:31px;font-weight:bold">39</em><em style="font-size:17px;font-weight:bold">%</em></span>
<span style="left:827.5px;top:2619.0px;font-size:30.0px;line-height:30.0px;color:#ffff00;font-weight:bold;transform-origin:0 50%;transform:scaleX(1.0901);">4,358,712 <em style="font-size:14.5px;font-weight:bold">THB Mil.</em></span>
<div style="left:1181.2px;top:1919.3px;width:1014.3px;height:67.7px;background:#558ed5;"></div>
<span style="left:1688.5px;top:1940.6px;font-size:29.0px;line-height:29.0px;color:#fff;font-weight:bold;transform:translateX(-50%) scaleX(1.0845);">GOVT Bond Auction Schedule Q1/FY2018</span>
<div style="left:1181.5px;top:1987.0px;width:1013.4px;height:113.5px;background:#dce6f1;"></div>
<div style="left:1181.5px;top:2123.5px;width:1013.4px;height:340.3px;background:#fff;"></div>
<div style="left:1180.0px;top:1986.0px;width:1016.4px;height:3.0px;background:#000;"></div>
<div style="left:1181.5px;top:2008.0px;width:1013.4px;height:3.0px;background:#000;"></div>
<div style="left:1181.5px;top:2099.0px;width:1013.4px;height:3.0px;background:#000;"></div>
<div style="left:1181.5px;top:2122.0px;width:1013.4px;height:2.0px;background:#000;"></div>
<div style="left:1181.5px;top:2145.0px;width:1013.4px;height:1.4px;background:#000;"></div>
<div style="left:1181.5px;top:2168.0px;width:1013.4px;height:1.4px;background:#000;"></div>
<div style="left:1181.5px;top:2190.0px;width:1013.4px;height:2.4px;background:#000;"></div>
<div style="left:1181.5px;top:2214.0px;width:1013.4px;height:1.4px;background:#000;"></div>
<div style="left:1181.5px;top:2236.0px;width:1013.4px;height:1.4px;background:#000;"></div>
<div style="left:1181.5px;top:2258.0px;width:1013.4px;height:2.4px;background:#000;"></div>
<div style="left:1181.5px;top:2282.0px;width:1013.4px;height:1.4px;background:#000;"></div>
<div style="left:1181.5px;top:2304.0px;width:1013.4px;height:1.4px;background:#000;"></div>
<div style="left:1181.5px;top:2327.0px;width:1013.4px;height:1.4px;background:#000;"></div>
<div style="left:1181.5px;top:2350.0px;width:1013.4px;height:1.4px;background:#000;"></div>
<div style="left:1181.5px;top:2372.0px;width:1013.4px;height:1.4px;background:#000;"></div>
<div style="left:1181.5px;top:2395.0px;width:1013.4px;height:1.4px;background:#000;"></div>
<div style="left:1181.5px;top:2418.0px;width:1013.4px;height:1.4px;background:#000;"></div>
<div style="left:1181.5px;top:2440.0px;width:1013.4px;height:1.4px;background:#000;"></div>
<div style="left:1180.0px;top:2462.0px;width:1016.4px;height:3.0px;background:#000;"></div>
<div style="left:1180.0px;top:1987.0px;width:3.0px;height:476.8px;background:#000;"></div>
<div style="left:1266.0px;top:1987.0px;width:2.4px;height:113.5px;background:#000;"></div>
<div style="left:1267.0px;top:2123.5px;width:1.4px;height:340.3px;background:#000;"></div>
<div style="left:1339.0px;top:1987.0px;width:2.4px;height:113.5px;background:#000;"></div>
<div style="left:1340.0px;top:2123.5px;width:1.4px;height:340.3px;background:#000;"></div>
<div style="left:1424.0px;top:1987.0px;width:3.4px;height:113.5px;background:#000;"></div>
<div style="left:1425.0px;top:2123.5px;width:2.0px;height:340.3px;background:#000;"></div>
<div style="left:1510.0px;top:1987.0px;width:2.4px;height:113.5px;background:#000;"></div>
<div style="left:1510.0px;top:2123.5px;width:2.6px;height:340.3px;background:#000;"></div>
<div style="left:1595.0px;top:1987.0px;width:2.4px;height:113.5px;background:#000;"></div>
<div style="left:1596.0px;top:2123.5px;width:1.4px;height:340.3px;background:#000;"></div>
<div style="left:1680.0px;top:1987.0px;width:3.4px;height:113.5px;background:#000;"></div>
<div style="left:1680.0px;top:2123.5px;width:2.0px;height:340.3px;background:#000;"></div>
<div style="left:1756.0px;top:1987.0px;width:3.4px;height:113.5px;background:#000;"></div>
<div style="left:1756.0px;top:2123.5px;width:2.6px;height:340.3px;background:#000;"></div>
<div style="left:1825.0px;top:1987.0px;width:3.4px;height:113.5px;background:#000;"></div>
<div style="left:1826.0px;top:2123.5px;width:1.4px;height:340.3px;background:#000;"></div>
<div style="left:1908.0px;top:1987.0px;width:2.4px;height:113.5px;background:#000;"></div>
<div style="left:1908.0px;top:2123.5px;width:2.6px;height:340.3px;background:#000;"></div>
<div style="left:1994.0px;top:1987.0px;width:2.4px;height:113.5px;background:#000;"></div>
<div style="left:1994.0px;top:2123.5px;width:1.4px;height:340.3px;background:#000;"></div>
<div style="left:2066.0px;top:1987.0px;width:2.4px;height:113.5px;background:#000;"></div>
<div style="left:2067.0px;top:2123.5px;width:1.4px;height:340.3px;background:#000;"></div>
<div style="left:2130.0px;top:1987.0px;width:2.4px;height:113.5px;background:#000;"></div>
<div style="left:2130.0px;top:2123.5px;width:1.4px;height:340.3px;background:#000;"></div>
<div style="left:2193.0px;top:1987.0px;width:3.0px;height:476.8px;background:#000;"></div>
<div style="left:1996.4px;top:1989.0px;width:197.0px;height:19.5px;background:#dce6f1;"></div>
<span style="left:2094.9px;top:1992.5px;font-size:16.0px;line-height:16.0px;color:#000;transform:translateX(-50%) scaleX(1.0442);">Spread over T-1</span>
<span style="left:1224.4px;top:2013.8px;font-size:13.3px;line-height:13.3px;color:#333;transform:translateX(-50%) scaleX(1.0200);">Date</span>
<span style="left:1303.9px;top:2014.5px;font-size:13.3px;line-height:13.3px;color:#333;transform:translateX(-50%) scaleX(1.0200);">Tenor</span>
<span style="left:1303.9px;top:2032.2px;font-size:13.3px;line-height:13.3px;color:#333;transform:translateX(-50%) scaleX(1.0200);">(Year)</span>
<span style="left:1383.1px;top:2013.8px;font-size:13.3px;line-height:13.3px;color:#333;transform:translateX(-50%) scaleX(1.0200);">Symbol</span>
<span style="left:1468.5px;top:2014.5px;font-size:13.3px;line-height:13.3px;color:#333;transform:translateX(-50%) scaleX(1.0200);">Auction</span>
<span style="left:1468.5px;top:2032.2px;font-size:13.3px;line-height:13.3px;color:#333;transform:translateX(-50%) scaleX(1.0200);">Amount</span>
<span style="left:1468.5px;top:2049.9px;font-size:13.3px;line-height:13.3px;color:#333;transform:translateX(-50%) scaleX(1.0200);">(THB Mil.)</span>
<span style="left:1553.7px;top:2014.5px;font-size:13.3px;line-height:13.3px;color:#333;transform:translateX(-50%) scaleX(1.0200);">Total</span>
<span style="left:1553.7px;top:2032.2px;font-size:13.3px;line-height:13.3px;color:#333;transform:translateX(-50%) scaleX(1.0200);">Allocated</span>
<span style="left:1553.7px;top:2049.9px;font-size:13.3px;line-height:13.3px;color:#333;transform:translateX(-50%) scaleX(1.0200);">CB+NCB</span>
<span style="left:1553.7px;top:2067.6px;font-size:13.3px;line-height:13.3px;color:#333;transform:translateX(-50%) scaleX(1.0200);">(THB Mil.)</span>
<span style="left:1638.8px;top:2013.8px;font-size:13.3px;line-height:13.3px;color:#333;transform:translateX(-50%) scaleX(1.0200);">Allocated</span>
<span style="left:1638.8px;top:2031.0px;font-size:13.3px;line-height:13.3px;color:#333;transform:translateX(-50%) scaleX(1.0200);">CB</span>
<span style="left:1638.8px;top:2048.2px;font-size:13.3px;line-height:13.3px;color:#333;transform:translateX(-50%) scaleX(1.0200);">(THB Mil.)</span>
<span style="left:1719.3px;top:2014.5px;font-size:13.3px;line-height:13.3px;color:#333;transform:translateX(-50%) scaleX(1.0200);">NCB</span>
<span style="left:1719.3px;top:2032.2px;font-size:13.3px;line-height:13.3px;color:#333;transform:translateX(-50%) scaleX(1.0200);">(THB Mil.)</span>
<span style="left:1791.8px;top:2014.5px;font-size:13.3px;line-height:13.3px;color:#333;transform:translateX(-50%) scaleX(1.0200);">BCR</span>
<span style="left:1868.0px;top:2014.5px;font-size:13.3px;line-height:13.3px;color:#333;transform:translateX(-50%) scaleX(1.0200);">G/O</span>
<span style="left:1952.2px;top:2014.5px;font-size:13.3px;line-height:13.3px;color:#333;transform:translateX(-50%) scaleX(1.0200);">AAY</span>
<span style="left:1952.2px;top:2032.2px;font-size:13.3px;line-height:13.3px;color:#333;transform:translateX(-50%) scaleX(1.0200);">(%)</span>
<span style="left:2031.2px;top:2014.5px;font-size:13.3px;line-height:13.3px;color:#333;transform:translateX(-50%) scaleX(1.0200);">Spread</span>
<span style="left:2031.2px;top:2032.2px;font-size:13.3px;line-height:13.3px;color:#333;transform:translateX(-50%) scaleX(1.0200);">(bps)</span>
<span style="left:2099.2px;top:2014.5px;font-size:13.3px;line-height:13.3px;color:#333;transform:translateX(-50%) scaleX(1.0200);">Min.</span>
<span style="left:2099.2px;top:2032.2px;font-size:13.3px;line-height:13.3px;color:#333;transform:translateX(-50%) scaleX(1.0200);">(bps)</span>
<span style="left:2163.0px;top:2014.5px;font-size:13.3px;line-height:13.3px;color:#333;transform:translateX(-50%) scaleX(1.0200);">Max.</span>
<span style="left:2163.0px;top:2032.2px;font-size:13.3px;line-height:13.3px;color:#333;transform:translateX(-50%) scaleX(1.0200);">(bps)</span>
<span style="left:1262.1px;top:2129.0px;font-size:15.5px;line-height:15.5px;color:#172a5a;transform-origin:100% 50%;transform:translateX(-100%) scaleX(0.9700);">11-Oct-17</span>
<span style="left:1304.5px;top:2129.0px;font-size:15.5px;line-height:15.5px;color:#172a5a;transform:translateX(-50%) scaleX(0.9700);">10</span>
<span style="left:1382.7px;top:2129.0px;font-size:15.5px;line-height:15.5px;color:#172a5a;transform:translateX(-50%) scaleX(0.9500);">LB26DA</span>
<span style="left:1500.2px;top:2125.4px;font-size:17.0px;line-height:17.0px;color:#172a5a;font-family:'Liberation Serif', serif;transform-origin:100% 50%;transform:translateX(-100%) scaleX(1.0500);-webkit-text-stroke:0.35px currentColor;">14,000</span>
<span style="left:1584.9px;top:2127.9px;font-size:17.0px;line-height:17.0px;color:#172a5a;font-family:'Liberation Serif', serif;transform-origin:100% 50%;transform:translateX(-100%) scaleX(1.0500);-webkit-text-stroke:0.35px currentColor;">14,000</span>
<span style="left:1671.2px;top:2127.9px;font-size:17.0px;line-height:17.0px;color:#172a5a;font-family:'Liberation Serif', serif;transform-origin:100% 50%;transform:translateX(-100%) scaleX(1.0500);-webkit-text-stroke:0.35px currentColor;">13,700</span>
<span style="left:1745.9px;top:2127.9px;font-size:17.0px;line-height:17.0px;color:#172a5a;font-family:'Liberation Serif', serif;transform-origin:100% 50%;transform:translateX(-100%) scaleX(1.0500);-webkit-text-stroke:0.35px currentColor;">300</span>
<span style="left:1816.3px;top:2127.9px;font-size:17.0px;line-height:17.0px;color:#172a5a;font-family:'Liberation Serif', serif;transform-origin:100% 50%;transform:translateX(-100%) scaleX(1.0500);-webkit-text-stroke:0.35px currentColor;">3.82</span>
<span style="left:1899.6px;top:2125.4px;font-size:17.0px;line-height:17.0px;color:#e00000;font-family:'Liberation Serif', serif;transform-origin:100% 50%;transform:translateX(-100%) scaleX(1.0500);-webkit-text-stroke:0.35px currentColor;">1,400</span>
<span style="left:1984.8px;top:2127.9px;font-size:17.0px;line-height:17.0px;color:#172a5a;font-family:'Liberation Serif', serif;transform-origin:100% 50%;transform:translateX(-100%) scaleX(1.0500);-webkit-text-stroke:0.35px currentColor;">2.26</span>
<span style="left:2063.4px;top:2127.9px;font-size:17.0px;line-height:17.0px;color:#e00000;font-family:'Liberation Serif', serif;transform-origin:100% 50%;transform:translateX(-100%) scaleX(1.0500);-webkit-text-stroke:0.35px currentColor;">-2.655</span>
<span style="left:2127.1px;top:2127.9px;font-size:17.0px;line-height:17.0px;color:#e00000;font-family:'Liberation Serif', serif;transform-origin:100% 50%;transform:translateX(-100%) scaleX(1.0500);-webkit-text-stroke:0.35px currentColor;">-3.58</span>
<span style="left:2191.5px;top:2127.9px;font-size:17.0px;line-height:17.0px;color:#e00000;font-family:'Liberation Serif', serif;transform-origin:100% 50%;transform:translateX(-100%) scaleX(1.0500);-webkit-text-stroke:0.35px currentColor;">-2.48</span>
<span style="left:1262.1px;top:2151.7px;font-size:15.5px;line-height:15.5px;color:#172a5a;transform-origin:100% 50%;transform:translateX(-100%) scaleX(0.9700);">18-Oct-17</span>
<span style="left:1304.5px;top:2151.7px;font-size:15.5px;line-height:15.5px;color:#172a5a;transform:translateX(-50%) scaleX(0.9700);">30</span>
<span style="left:1382.7px;top:2151.7px;font-size:15.5px;line-height:15.5px;color:#172a5a;transform:translateX(-50%) scaleX(0.9500);">LB466A</span>
<span style="left:1500.2px;top:2148.1px;font-size:17.0px;line-height:17.0px;color:#172a5a;font-family:'Liberation Serif', serif;transform-origin:100% 50%;transform:translateX(-100%) scaleX(1.0500);-webkit-text-stroke:0.35px currentColor;">12,000</span>
<span style="left:1584.9px;top:2150.6px;font-size:17.0px;line-height:17.0px;color:#172a5a;font-family:'Liberation Serif', serif;transform-origin:100% 50%;transform:translateX(-100%) scaleX(1.0500);-webkit-text-stroke:0.35px currentColor;">12,000</span>
<span style="left:1671.2px;top:2150.6px;font-size:17.0px;line-height:17.0px;color:#172a5a;font-family:'Liberation Serif', serif;transform-origin:100% 50%;transform:translateX(-100%) scaleX(1.0500);-webkit-text-stroke:0.35px currentColor;">11,100</span>
<span style="left:1745.9px;top:2150.6px;font-size:17.0px;line-height:17.0px;color:#172a5a;font-family:'Liberation Serif', serif;transform-origin:100% 50%;transform:translateX(-100%) scaleX(1.0500);-webkit-text-stroke:0.35px currentColor;">900</span>
<span style="left:1816.3px;top:2150.6px;font-size:17.0px;line-height:17.0px;color:#172a5a;font-family:'Liberation Serif', serif;transform-origin:100% 50%;transform:translateX(-100%) scaleX(1.0500);-webkit-text-stroke:0.35px currentColor;">2.21</span>
<span style="left:1899.6px;top:2148.1px;font-size:17.0px;line-height:17.0px;color:#e00000;font-family:'Liberation Serif', serif;transform-origin:100% 50%;transform:translateX(-100%) scaleX(1.0500);-webkit-text-stroke:0.35px currentColor;">1,200</span>
<span style="left:1984.8px;top:2150.6px;font-size:17.0px;line-height:17.0px;color:#172a5a;font-family:'Liberation Serif', serif;transform-origin:100% 50%;transform:translateX(-100%) scaleX(1.0500);-webkit-text-stroke:0.35px currentColor;">3.05</span>
<span style="left:2063.4px;top:2150.6px;font-size:17.0px;line-height:17.0px;color:#e00000;font-family:'Liberation Serif', serif;transform-origin:100% 50%;transform:translateX(-100%) scaleX(1.0500);-webkit-text-stroke:0.35px currentColor;">-6.936</span>
<span style="left:2127.1px;top:2150.6px;font-size:17.0px;line-height:17.0px;color:#e00000;font-family:'Liberation Serif', serif;transform-origin:100% 50%;transform:translateX(-100%) scaleX(1.0500);-webkit-text-stroke:0.35px currentColor;">-9.31</span>
<span style="left:2191.5px;top:2150.6px;font-size:17.0px;line-height:17.0px;color:#e00000;font-family:'Liberation Serif', serif;transform-origin:100% 50%;transform:translateX(-100%) scaleX(1.0500);-webkit-text-stroke:0.35px currentColor;">-5.51</span>
<span style="left:1262.1px;top:2174.4px;font-size:15.5px;line-height:15.5px;color:#172a5a;transform-origin:100% 50%;transform:translateX(-100%) scaleX(0.9700);">25-Oct-17</span>
<span style="left:1304.5px;top:2174.4px;font-size:15.5px;line-height:15.5px;color:#172a5a;transform:translateX(-50%) scaleX(0.9700);">15</span>
<span style="left:1382.7px;top:2174.4px;font-size:15.5px;line-height:15.5px;color:#172a5a;transform:translateX(-50%) scaleX(0.9500);">LB316A</span>
<span style="left:1500.2px;top:2170.8px;font-size:17.0px;line-height:17.0px;color:#172a5a;font-family:'Liberation Serif', serif;transform-origin:100% 50%;transform:translateX(-100%) scaleX(1.0500);-webkit-text-stroke:0.35px currentColor;">12,000</span>
<span style="left:1584.9px;top:2173.3px;font-size:17.0px;line-height:17.0px;color:#172a5a;font-family:'Liberation Serif', serif;transform-origin:100% 50%;transform:translateX(-100%) scaleX(1.0500);-webkit-text-stroke:0.35px currentColor;">12,000</span>
<span style="left:1671.2px;top:2173.3px;font-size:17.0px;line-height:17.0px;color:#172a5a;font-family:'Liberation Serif', serif;transform-origin:100% 50%;transform:translateX(-100%) scaleX(1.0500);-webkit-text-stroke:0.35px currentColor;">11,800</span>
<span style="left:1745.9px;top:2173.3px;font-size:17.0px;line-height:17.0px;color:#172a5a;font-family:'Liberation Serif', serif;transform-origin:100% 50%;transform:translateX(-100%) scaleX(1.0500);-webkit-text-stroke:0.35px currentColor;">200</span>
<span style="left:1816.3px;top:2173.3px;font-size:17.0px;line-height:17.0px;color:#172a5a;font-family:'Liberation Serif', serif;transform-origin:100% 50%;transform:translateX(-100%) scaleX(1.0500);-webkit-text-stroke:0.35px currentColor;">1.52</span>
<span style="left:1868.0px;top:2170.8px;font-size:17.0px;line-height:17.0px;color:#172a5a;font-family:'Liberation Serif', serif;transform:translateX(-50%) scaleX(0.9800);">-</span>
<span style="left:1984.8px;top:2173.3px;font-size:17.0px;line-height:17.0px;color:#172a5a;font-family:'Liberation Serif', serif;transform-origin:100% 50%;transform:translateX(-100%) scaleX(1.0500);-webkit-text-stroke:0.35px currentColor;">2.65</span>
<span style="left:2063.4px;top:2173.3px;font-size:17.0px;line-height:17.0px;color:#2e8b2e;font-family:'Liberation Serif', serif;transform-origin:100% 50%;transform:translateX(-100%) scaleX(1.0500);-webkit-text-stroke:0.35px currentColor;">2.16</span>
<span style="left:2127.1px;top:2173.3px;font-size:17.0px;line-height:17.0px;color:#e00000;font-family:'Liberation Serif', serif;transform-origin:100% 50%;transform:translateX(-100%) scaleX(1.0500);-webkit-text-stroke:0.35px currentColor;">-0.19</span>
<span style="left:2191.5px;top:2173.3px;font-size:17.0px;line-height:17.0px;color:#2e8b2e;font-family:'Liberation Serif', serif;transform-origin:100% 50%;transform:translateX(-100%) scaleX(1.0500);-webkit-text-stroke:0.35px currentColor;">4.11</span>
<span style="left:1262.1px;top:2197.0px;font-size:15.5px;line-height:15.5px;color:#172a5a;transform-origin:100% 50%;transform:translateX(-100%) scaleX(0.9700);">8-Nov-17</span>
<span style="left:1304.5px;top:2197.0px;font-size:15.5px;line-height:15.5px;color:#172a5a;transform:translateX(-50%) scaleX(0.9700);">50</span>
<span style="left:1382.7px;top:2197.0px;font-size:15.5px;line-height:15.5px;color:#172a5a;transform:translateX(-50%) scaleX(0.9500);">LB676A</span>
<span style="left:1500.2px;top:2193.5px;font-size:17.0px;line-height:17.0px;color:#172a5a;font-family:'Liberation Serif', serif;transform-origin:100% 50%;transform:translateX(-100%) scaleX(1.0500);-webkit-text-stroke:0.35px currentColor;">14,000</span>
<span style="left:1584.9px;top:2196.0px;font-size:17.0px;line-height:17.0px;color:#172a5a;font-family:'Liberation Serif', serif;transform-origin:100% 50%;transform:translateX(-100%) scaleX(1.0500);-webkit-text-stroke:0.35px currentColor;">14,000</span>
<span style="left:1671.2px;top:2196.0px;font-size:17.0px;line-height:17.0px;color:#172a5a;font-family:'Liberation Serif', serif;transform-origin:100% 50%;transform:translateX(-100%) scaleX(1.0500);-webkit-text-stroke:0.35px currentColor;">11,200</span>
<span style="left:1745.9px;top:2196.0px;font-size:17.0px;line-height:17.0px;color:#172a5a;font-family:'Liberation Serif', serif;transform-origin:100% 50%;transform:translateX(-100%) scaleX(1.0500);-webkit-text-stroke:0.35px currentColor;">2,800</span>
<span style="left:1816.3px;top:2196.0px;font-size:17.0px;line-height:17.0px;color:#172a5a;font-family:'Liberation Serif', serif;transform-origin:100% 50%;transform:translateX(-100%) scaleX(1.0500);-webkit-text-stroke:0.35px currentColor;">2.17</span>
<span style="left:1899.6px;top:2193.5px;font-size:17.0px;line-height:17.0px;color:#e00000;font-family:'Liberation Serif', serif;transform-origin:100% 50%;transform:translateX(-100%) scaleX(1.0500);-webkit-text-stroke:0.35px currentColor;">1,400</span>
<span style="left:1984.8px;top:2196.0px;font-size:17.0px;line-height:17.0px;color:#172a5a;font-family:'Liberation Serif', serif;transform-origin:100% 50%;transform:translateX(-100%) scaleX(1.0500);-webkit-text-stroke:0.35px currentColor;">3.44</span>
<span style="left:2063.4px;top:2196.0px;font-size:17.0px;line-height:17.0px;color:#e00000;font-family:'Liberation Serif', serif;transform-origin:100% 50%;transform:translateX(-100%) scaleX(1.0500);-webkit-text-stroke:0.35px currentColor;">-4.90</span>
<span style="left:2127.1px;top:2196.0px;font-size:17.0px;line-height:17.0px;color:#e00000;font-family:'Liberation Serif', serif;transform-origin:100% 50%;transform:translateX(-100%) scaleX(1.0500);-webkit-text-stroke:0.35px currentColor;">-9.49</span>
<span style="left:2191.5px;top:2196.0px;font-size:17.0px;line-height:17.0px;color:#e00000;font-family:'Liberation Serif', serif;transform-origin:100% 50%;transform:translateX(-100%) scaleX(1.0500);-webkit-text-stroke:0.35px currentColor;">-1.79</span>
<span style="left:1262.1px;top:2219.7px;font-size:15.5px;line-height:15.5px;color:#172a5a;transform-origin:100% 50%;transform:translateX(-100%) scaleX(0.9700);">15-Nov-17</span>
<span style="left:1304.5px;top:2219.7px;font-size:15.5px;line-height:15.5px;color:#172a5a;transform:translateX(-50%) scaleX(0.9700);">5</span>
<span style="left:1382.7px;top:2219.7px;font-size:15.5px;line-height:15.5px;color:#172a5a;transform:translateX(-50%) scaleX(0.9500);">LB22DA</span>
<span style="left:1500.2px;top:2216.2px;font-size:17.0px;line-height:17.0px;color:#172a5a;font-family:'Liberation Serif', serif;transform-origin:100% 50%;transform:translateX(-100%) scaleX(1.0500);-webkit-text-stroke:0.35px currentColor;">40,000</span>
<span style="left:1584.9px;top:2218.7px;font-size:17.0px;line-height:17.0px;color:#172a5a;font-family:'Liberation Serif', serif;transform-origin:100% 50%;transform:translateX(-100%) scaleX(1.0500);-webkit-text-stroke:0.35px currentColor;">40,000</span>
<span style="left:1671.2px;top:2218.7px;font-size:17.0px;line-height:17.0px;color:#172a5a;font-family:'Liberation Serif', serif;transform-origin:100% 50%;transform:translateX(-100%) scaleX(1.0500);-webkit-text-stroke:0.35px currentColor;">40,000</span>
<span style="left:1719.5px;top:2218.7px;font-size:17.0px;line-height:17.0px;color:#172a5a;font-family:'Liberation Serif', serif;transform:translateX(-50%) scaleX(0.9800);">-</span>
<span style="left:1816.3px;top:2218.7px;font-size:17.0px;line-height:17.0px;color:#172a5a;font-family:'Liberation Serif', serif;transform-origin:100% 50%;transform:translateX(-100%) scaleX(1.0500);-webkit-text-stroke:0.35px currentColor;">1.86</span>
<span style="left:1899.6px;top:2216.2px;font-size:17.0px;line-height:17.0px;color:#172a5a;font-family:'Liberation Serif', serif;transform-origin:100% 50%;transform:translateX(-100%) scaleX(1.0500);-webkit-text-stroke:0.35px currentColor;">2,064</span>
<span style="left:1984.8px;top:2218.7px;font-size:17.0px;line-height:17.0px;color:#172a5a;font-family:'Liberation Serif', serif;transform-origin:100% 50%;transform:translateX(-100%) scaleX(1.0500);-webkit-text-stroke:0.35px currentColor;">1.94</span>
<span style="left:2063.4px;top:2218.7px;font-size:17.0px;line-height:17.0px;color:#2e8b2e;font-family:'Liberation Serif', serif;transform-origin:100% 50%;transform:translateX(-100%) scaleX(1.0500);-webkit-text-stroke:0.35px currentColor;">1.79</span>
<span style="left:2127.1px;top:2218.7px;font-size:17.0px;line-height:17.0px;color:#e00000;font-family:'Liberation Serif', serif;transform-origin:100% 50%;transform:translateX(-100%) scaleX(1.0500);-webkit-text-stroke:0.35px currentColor;">-0.08</span>
<span style="left:2191.5px;top:2218.7px;font-size:17.0px;line-height:17.0px;color:#2e8b2e;font-family:'Liberation Serif', serif;transform-origin:100% 50%;transform:translateX(-100%) scaleX(1.0500);-webkit-text-stroke:0.35px currentColor;">2.92</span>
<span style="left:1262.1px;top:2242.4px;font-size:15.5px;line-height:15.5px;color:#172a5a;transform-origin:100% 50%;transform:translateX(-100%) scaleX(0.9700);">22-Nov-17</span>
<span style="left:1304.5px;top:2242.4px;font-size:15.5px;line-height:15.5px;color:#172a5a;transform:translateX(-50%) scaleX(0.9700);">20</span>
<span style="left:1382.7px;top:2242.4px;font-size:15.5px;line-height:15.5px;color:#172a5a;transform:translateX(-50%) scaleX(0.9500);">LB366A</span>
<span style="left:1500.2px;top:2238.9px;font-size:17.0px;line-height:17.0px;color:#172a5a;font-family:'Liberation Serif', serif;transform-origin:100% 50%;transform:translateX(-100%) scaleX(1.0500);-webkit-text-stroke:0.35px currentColor;">13,000</span>
<span style="left:1262.1px;top:2265.1px;font-size:15.5px;line-height:15.5px;color:#172a5a;transform-origin:100% 50%;transform:translateX(-100%) scaleX(0.9700);">6-Dec-17</span>
<span style="left:1304.5px;top:2265.1px;font-size:15.5px;line-height:15.5px;color:#172a5a;transform:translateX(-50%) scaleX(0.9700);">15</span>
<span style="left:1382.7px;top:2265.1px;font-size:15.5px;line-height:15.5px;color:#172a5a;transform:translateX(-50%) scaleX(0.9500);">LB316A</span>
<span style="left:1500.2px;top:2261.5px;font-size:17.0px;line-height:17.0px;color:#172a5a;font-family:'Liberation Serif', serif;transform-origin:100% 50%;transform:translateX(-100%) scaleX(1.0500);-webkit-text-stroke:0.35px currentColor;">12,000</span>
<span style="left:1262.1px;top:2287.8px;font-size:15.5px;line-height:15.5px;color:#172a5a;transform-origin:100% 50%;transform:translateX(-100%) scaleX(0.9700);">13-Dec-17</span>
<span style="left:1304.5px;top:2287.8px;font-size:15.5px;line-height:15.5px;color:#172a5a;transform:translateX(-50%) scaleX(0.9700);">10</span>
<span style="left:1382.7px;top:2287.8px;font-size:15.5px;line-height:15.5px;color:#172a5a;transform:translateX(-50%) scaleX(0.9500);">LB26DA</span>
<span style="left:1500.2px;top:2284.2px;font-size:17.0px;line-height:17.0px;color:#172a5a;font-family:'Liberation Serif', serif;transform-origin:100% 50%;transform:translateX(-100%) scaleX(1.0500);-webkit-text-stroke:0.35px currentColor;">13,000</span>
<span style="left:1262.1px;top:2310.5px;font-size:15.5px;line-height:15.5px;color:#172a5a;transform-origin:100% 50%;transform:translateX(-100%) scaleX(0.9700);">20-Dec-17</span>
<span style="left:1304.5px;top:2310.5px;font-size:15.5px;line-height:15.5px;color:#172a5a;transform:translateX(-50%) scaleX(0.9700);">30</span>
<span style="left:1382.7px;top:2310.5px;font-size:15.5px;line-height:15.5px;color:#172a5a;transform:translateX(-50%) scaleX(0.9500);">LB466A</span>
<span style="left:1500.2px;top:2306.9px;font-size:17.0px;line-height:17.0px;color:#172a5a;font-family:'Liberation Serif', serif;transform-origin:100% 50%;transform:translateX(-100%) scaleX(1.0500);-webkit-text-stroke:0.35px currentColor;">12,000</span>
<span style="left:1183.4px;top:2471.3px;font-size:13.3px;line-height:13.3px;color:#172a5a;transform-origin:0 50%;transform:scaleX(0.9989);">G : Greenshoe option</span>
<span style="left:1183.4px;top:2494.1px;font-size:13.3px;line-height:13.3px;color:#e00000;transform-origin:0 50%;transform:scaleX(1.0172);">O:  Overallotment</span>
<span style="left:2019.0px;top:2469.9px;font-size:15.0px;line-height:15.0px;color:#333;transform-origin:0 50%;transform:scaleX(0.9798);">Source : ThaiBMA</span>
<div style="left:1180.0px;top:2530.8px;width:1016.4px;height:252.0px;background:#000;"></div>
<div style="left:1182.5px;top:2533.3px;width:1011.4px;height:65.7px;background:#0070c0;"></div>
<span style="left:1688.8px;top:2551.4px;font-size:29.0px;line-height:29.0px;color:#fff;font-weight:bold;transform:translateX(-50%) scaleX(1.0616);">Top 5 Most Active GOVT Bond</span>
<div style="left:1182.5px;top:2600.8px;width:1011.4px;height:65.2px;background:#dce6f1;"></div>
<div style="left:1182.5px;top:2668.0px;width:1011.4px;height:21.0px;background:#fff;"></div>
<div style="left:1182.5px;top:2691.0px;width:1011.4px;height:21.0px;background:#fff;"></div>
<div style="left:1182.5px;top:2714.0px;width:1011.4px;height:21.0px;background:#fff;"></div>
<div style="left:1182.5px;top:2737.0px;width:1011.4px;height:20.0px;background:#fff;"></div>
<div style="left:1182.5px;top:2759.0px;width:1011.4px;height:21.0px;background:#fff;"></div>
<div style="left:1317.0px;top:2600.0px;width:2.0px;height:181.3px;background:#000;"></div>
<div style="left:1466.0px;top:2600.0px;width:2.0px;height:181.3px;background:#000;"></div>
<div style="left:1531.0px;top:2600.0px;width:2.0px;height:181.3px;background:#000;"></div>
<div style="left:1756.0px;top:2600.0px;width:2.0px;height:181.3px;background:#000;"></div>
<div style="left:1951.0px;top:2600.0px;width:2.0px;height:181.3px;background:#000;"></div>
<div style="left:2086.0px;top:2600.0px;width:2.0px;height:181.3px;background:#000;"></div>
<span style="left:1251.2px;top:2603.7px;font-size:15.5px;line-height:15.5px;color:#111;font-weight:bold;transform:translateX(-50%) scaleX(1.1300);">No.</span>
<span style="left:1394.2px;top:2603.7px;font-size:15.5px;line-height:15.5px;color:#111;font-weight:bold;transform:translateX(-50%) scaleX(1.1300);">Symbol</span>
<span style="left:1500.9px;top:2603.7px;font-size:15.5px;line-height:15.5px;color:#111;font-weight:bold;transform:translateX(-50%) scaleX(1.1300);">TTM.</span>
<span style="left:1645.9px;top:2603.7px;font-size:15.5px;line-height:15.5px;color:#111;font-weight:bold;transform:translateX(-50%) scaleX(1.1300);">Outstanding</span>
<span style="left:1645.9px;top:2626.9px;font-size:15.5px;line-height:15.5px;color:#111;font-weight:bold;transform:translateX(-50%) scaleX(1.1300);">Value</span>
<span style="left:1645.9px;top:2650.1px;font-size:15.5px;line-height:15.5px;color:#111;font-weight:bold;transform:translateX(-50%) scaleX(1.1300);">(THB Mil.)</span>
<span style="left:1854.0px;top:2603.1px;font-size:15.5px;line-height:15.5px;color:#111;font-weight:bold;transform:translateX(-50%) scaleX(1.1300);">Total</span>
<span style="left:1854.0px;top:2624.6px;font-size:15.5px;line-height:15.5px;color:#111;font-weight:bold;transform:translateX(-50%) scaleX(1.1300);">Trading Value</span>
<span style="left:1854.0px;top:2646.1px;font-size:15.5px;line-height:15.5px;color:#111;font-weight:bold;transform:translateX(-50%) scaleX(1.1300);">(THB Mil.)</span>
<span style="left:2020.0px;top:2603.1px;font-size:15.5px;line-height:15.5px;color:#111;font-weight:bold;font-family:'Liberation Sans', 'Noto Sans Thai', 'Tahoma', 'Loma', 'Garuda', sans-serif;transform:translateX(-50%) scaleX(1.0600);"><em style="font-size:12px;font-weight:bold">%</em> of Total</span>
<span style="left:2020.0px;top:2624.6px;font-size:15.5px;line-height:15.5px;color:#111;font-weight:bold;transform:translateX(-50%) scaleX(1.1300);">Trading</span>
<span style="left:2020.0px;top:2646.1px;font-size:15.5px;line-height:15.5px;color:#111;font-weight:bold;transform:translateX(-50%) scaleX(1.1300);">value</span>
<span style="left:2142.5px;top:2625.2px;font-size:15.5px;line-height:15.5px;color:#111;font-weight:bold;font-family:'Liberation Sans', 'Noto Sans Thai', 'Tahoma', 'Loma', 'Garuda', sans-serif;transform:translateX(-50%) scaleX(1.0600);">T/O (<em style="font-size:12px;font-weight:bold">เท่า</em>)</span>
<span style="left:1251.2px;top:2672.0px;font-size:17.5px;line-height:17.5px;color:#172a5a;font-weight:bold;transform:translateX(-50%) scaleX(1.1500);">1</span>
<span style="left:1394.2px;top:2672.0px;font-size:17.5px;line-height:17.5px;color:#172a5a;transform:translateX(-50%) scaleX(0.9800);">LB226A</span>
<span style="left:1500.9px;top:2670.0px;font-size:17.5px;line-height:17.5px;color:#172a5a;transform:translateX(-50%) scaleX(1.0300);">4.82</span>
<span style="left:1645.9px;top:2670.0px;font-size:17.5px;line-height:17.5px;color:#172a5a;transform:translateX(-50%) scaleX(1.0400);">202,592</span>
<span style="left:1920.4px;top:2672.0px;font-size:17.5px;line-height:17.5px;color:#172a5a;transform-origin:100% 50%;transform:translateX(-100%) scaleX(1.0400);">804,223</span>
<span style="left:2021.0px;top:2672.0px;font-size:17.5px;line-height:17.5px;color:#172a5a;transform:translateX(-50%) scaleX(1.0400);">21.47%</span>
<span style="left:2142.5px;top:2672.0px;font-size:17.5px;line-height:17.5px;color:#172a5a;transform:translateX(-50%) scaleX(1.0400);">3.97</span>
<span style="left:1251.2px;top:2694.8px;font-size:17.5px;line-height:17.5px;color:#172a5a;font-weight:bold;transform:translateX(-50%) scaleX(1.1500);">2</span>
<span style="left:1394.2px;top:2694.8px;font-size:17.5px;line-height:17.5px;color:#172a5a;transform:translateX(-50%) scaleX(0.9800);">LB196A</span>
<span style="left:1500.9px;top:2692.8px;font-size:17.5px;line-height:17.5px;color:#172a5a;transform:translateX(-50%) scaleX(1.0300);">1.81</span>
<span style="left:1645.9px;top:2692.8px;font-size:17.5px;line-height:17.5px;color:#172a5a;transform:translateX(-50%) scaleX(1.0400);">240,085</span>
<span style="left:1920.4px;top:2694.8px;font-size:17.5px;line-height:17.5px;color:#172a5a;transform-origin:100% 50%;transform:translateX(-100%) scaleX(1.0400);">442,560</span>
<span style="left:2021.0px;top:2694.8px;font-size:17.5px;line-height:17.5px;color:#172a5a;transform:translateX(-50%) scaleX(1.0400);">11.82%</span>
<span style="left:2142.5px;top:2694.8px;font-size:17.5px;line-height:17.5px;color:#172a5a;transform:translateX(-50%) scaleX(1.0400);">1.84</span>
<span style="left:1251.2px;top:2717.6px;font-size:17.5px;line-height:17.5px;color:#172a5a;font-weight:bold;transform:translateX(-50%) scaleX(1.1500);">3</span>
<span style="left:1394.2px;top:2717.6px;font-size:17.5px;line-height:17.5px;color:#172a5a;transform:translateX(-50%) scaleX(0.9800);">LB21DA</span>
<span style="left:1500.9px;top:2715.6px;font-size:17.5px;line-height:17.5px;color:#172a5a;transform:translateX(-50%) scaleX(1.0300);">4.33</span>
<span style="left:1645.9px;top:2715.6px;font-size:17.5px;line-height:17.5px;color:#172a5a;transform:translateX(-50%) scaleX(1.0400);">306,104</span>
<span style="left:1920.4px;top:2717.6px;font-size:17.5px;line-height:17.5px;color:#172a5a;transform-origin:100% 50%;transform:translateX(-100%) scaleX(1.0400);">427,162</span>
<span style="left:2021.0px;top:2717.6px;font-size:17.5px;line-height:17.5px;color:#172a5a;transform:translateX(-50%) scaleX(1.0400);">11.40%</span>
<span style="left:2142.5px;top:2717.6px;font-size:17.5px;line-height:17.5px;color:#172a5a;transform:translateX(-50%) scaleX(1.0400);">1.40</span>
<span style="left:1251.2px;top:2740.4px;font-size:17.5px;line-height:17.5px;color:#172a5a;font-weight:bold;transform:translateX(-50%) scaleX(1.1500);">4</span>
<span style="left:1394.2px;top:2740.4px;font-size:17.5px;line-height:17.5px;color:#172a5a;transform:translateX(-50%) scaleX(0.9800);">LB26DA</span>
<span style="left:1500.9px;top:2738.4px;font-size:17.5px;line-height:17.5px;color:#172a5a;transform:translateX(-50%) scaleX(1.0300);">9.33</span>
<span style="left:1645.9px;top:2738.4px;font-size:17.5px;line-height:17.5px;color:#172a5a;transform:translateX(-50%) scaleX(1.0400);">133,182</span>
<span style="left:1920.4px;top:2740.4px;font-size:17.5px;line-height:17.5px;color:#172a5a;transform-origin:100% 50%;transform:translateX(-100%) scaleX(1.0400);">357,428</span>
<span style="left:2021.0px;top:2740.4px;font-size:17.5px;line-height:17.5px;color:#172a5a;transform:translateX(-50%) scaleX(1.0400);">9.54%</span>
<span style="left:2142.5px;top:2740.4px;font-size:17.5px;line-height:17.5px;color:#172a5a;transform:translateX(-50%) scaleX(1.0400);">2.68</span>
<span style="left:1251.2px;top:2763.3px;font-size:17.5px;line-height:17.5px;color:#172a5a;font-weight:bold;transform:translateX(-50%) scaleX(1.1500);">5</span>
<span style="left:1394.2px;top:2763.3px;font-size:17.5px;line-height:17.5px;color:#172a5a;transform:translateX(-50%) scaleX(0.9800);">LB206A</span>
<span style="left:1500.9px;top:2761.3px;font-size:17.5px;line-height:17.5px;color:#172a5a;transform:translateX(-50%) scaleX(1.0300);">2.85</span>
<span style="left:1645.9px;top:2761.3px;font-size:17.5px;line-height:17.5px;color:#172a5a;transform:translateX(-50%) scaleX(1.0400);">188,118</span>
<span style="left:1920.4px;top:2763.3px;font-size:17.5px;line-height:17.5px;color:#172a5a;transform-origin:100% 50%;transform:translateX(-100%) scaleX(1.0400);">353,062</span>
<span style="left:2021.0px;top:2763.3px;font-size:17.5px;line-height:17.5px;color:#172a5a;transform:translateX(-50%) scaleX(1.0400);">9.43%</span>
<span style="left:2142.5px;top:2763.3px;font-size:17.5px;line-height:17.5px;color:#172a5a;transform:translateX(-50%) scaleX(1.0400);">1.88</span>
<span style="left:1798.9px;top:2785.0px;font-size:17.0px;line-height:17.0px;color:#000;transform-origin:0 50%;transform:scaleX(1.0527);">Source : ThaiBMA ( Oct 1<sup>st</sup>,2016 - Sep 15<sup>th</sup> ,2017 )</span>
<div style="left:156.0px;top:2804.0px;width:2039.0px;height:44.7px;background:#17375e;"></div>
<span style="left:1175.8px;top:2810.9px;font-size:30.5px;line-height:30.5px;color:#fff;transform:translateX(-50%) scaleX(1.0469);">GOVT Yield Curve Movement</span>
<div style="left:156.0px;top:2848.7px;width:2039.0px;height:362.1px;background:#d9d9d9;"></div>
<div style="left:213.7px;top:2872.7px;width:1967.5px;height:311.7px;background:#fff;"></div>
<span style="left:162.3px;top:2898.1px;font-size:20.5px;line-height:20.5px;color:#262626;transform-origin:0 50%;transform:scaleX(0.9548);">5%</span>
<span style="left:162.3px;top:2967.2px;font-size:20.5px;line-height:20.5px;color:#262626;transform-origin:0 50%;transform:scaleX(0.9548);">4%</span>
<span style="left:162.3px;top:3036.2px;font-size:20.5px;line-height:20.5px;color:#262626;transform-origin:0 50%;transform:scaleX(0.9548);">3%</span>
<span style="left:162.3px;top:3105.3px;font-size:20.5px;line-height:20.5px;color:#262626;transform-origin:0 50%;transform:scaleX(0.9548);">2%</span>
<span style="left:162.3px;top:3174.3px;font-size:20.5px;line-height:20.5px;color:#262626;transform-origin:0 50%;transform:scaleX(0.9548);">1%</span>
<svg style="left:213px;top:2872px;width:1970px;height:314px" viewBox="213 2872 1970 314"><path d="M213.7 3184.4 V3115.7 H330.4 V3133 H408.7 V3149.8 H2006 V3184.4 Z" fill="#fac090"/><path d="M213.7 2872.7 V3184.4 H2181" fill="none" stroke="#9a9a9a" stroke-width="1.2"/><path d="M213.7 2908.2 h6" stroke="#9a9a9a" stroke-width="1.2"/><path d="M213.7 2977.2 h6" stroke="#9a9a9a" stroke-width="1.2"/><path d="M213.7 3046.3 h6" stroke="#9a9a9a" stroke-width="1.2"/><path d="M213.7 3115.3 h6" stroke="#9a9a9a" stroke-width="1.2"/><path d="M213.7 3184.4 h6" stroke="#9a9a9a" stroke-width="1.2"/><polyline points="213.7,2976.9 278.5,2976.9 292.9,2972.1 321.7,2973.1 331.3,2971.2 369.8,2974.5 413.0,2978.4 427.4,2969.7 456.2,2969.7 475.4,2964.9 499.4,2964.9 528.3,2970.7 542.7,2973.1 571.5,2972.1 600.3,2976.0 605.1,2973.6 624.3,2974.5 638.7,2971.2 667.6,2974.5 696.4,2982.7 725.2,2984.1 758.8,2985.1 811.6,2986.5 826.1,2987.5 840.5,2985.6 854.9,2993.7 878.9,2995.2 900.0,2998.5 903.2,3001.9 932.0,3003.3 945.5,3009.6 948.9,3025.0 970.5,3027.4 984.9,3034.6 1001.7,3044.2 1018.5,3037.0 1052.1,3033.6 1080.9,3032.2 1129.0,3033.6 1157.8,3037.9 1205.8,3036.0 1244.2,3030.7 1292.3,3027.4 1359.5,3025.0 1378.7,3016.3 1402.7,3010.5 1426.8,3004.8 1436.4,3000.9 1484.4,3000.0 1532.4,2997.1 1580.5,2997.1 1603.2,2995.9 1612.8,2999.7 1646.3,2998.3 1727.9,2998.3 1761.5,3000.7 1785.5,2998.7 1814.2,2999.7 1838.2,3003.1 1857.4,3004.5 1881.4,3013.6 1895.8,3011.2 1943.7,3012.6 1972.5,3012.2 1991.7,3014.1 2006.1,3014.1" fill="none" stroke="#8064a2" stroke-width="3.7" stroke-linejoin="round"/><polyline points="213.7,3010.5 235.3,3012.5 278.5,3010.5 292.9,3004.3 321.7,3005.7 331.3,3003.3 369.8,3008.1 398.6,3012.9 413.0,3016.8 427.4,3004.3 456.2,3003.3 470.6,2997.6 513.9,2996.1 533.1,3004.3 571.5,3004.8 595.5,3012.0 624.3,3005.7 638.7,3002.4 653.1,3005.7 672.4,3006.7 696.4,3020.2 703.6,3021.6 725.2,3020.2 763.6,3021.1 778.0,3026.4 802.0,3028.8 826.1,3034.6 845.3,3034.6 864.5,3044.2 879.2,3049.0 903.2,3063.4 927.2,3061.0 944.1,3080.2 963.3,3085.0 975.3,3094.6 992.1,3099.4 1000.7,3113.8 1013.7,3097.0 1052.1,3094.6 1066.5,3085.0 1078.5,3087.4 1083.3,3070.6 1126.6,3070.6 1148.2,3085.0 1167.4,3080.2 1196.2,3081.6 1234.6,3073.0 1244.2,3067.2 1258.7,3069.1 1282.7,3067.2 1299.5,3077.8 1321.1,3072.0 1349.9,3068.2 1364.3,3063.4 1376.3,3044.2 1402.7,3037.0 1426.8,3024.0 1455.6,3020.2 1484.4,3025.9 1498.8,3017.8 1551.6,3019.2 1576.8,3012.6 1600.8,3015.0 1612.8,3028.5 1622.4,3026.1 1636.7,3029.4 1648.7,3019.8 1660.7,3027.0 1684.7,3027.0 1694.3,3024.6 1718.3,3029.4 1727.9,3029.4 1739.9,3037.6 1751.9,3041.4 1761.5,3038.1 1771.1,3041.4 1799.8,3038.1 1823.8,3043.8 1835.8,3040.0 1847.8,3043.8 1871.8,3048.6 1886.2,3054.9 1895.8,3051.0 1910.2,3055.8 1919.8,3052.5 1934.2,3054.4 1943.7,3059.7 1953.3,3059.2 1967.7,3052.5 1991.7,3053.4 2006.1,3052.5" fill="none" stroke="#2e9a3e" stroke-width="3.7" stroke-linejoin="round"/><polyline points="213.7,3073.0 223.3,3080.2 235.3,3081.6 245.8,3073.0 254.5,3077.8 278.5,3073.0 292.9,3059.5 307.3,3061.0 314.5,3068.2 324.1,3068.2 328.9,3062.4 333.7,3065.8 345.7,3064.3 369.8,3070.6 393.8,3068.2 403.4,3076.8 413.0,3078.8 427.4,3056.2 456.2,3061.0 465.8,3049.0 477.8,3041.8 499.4,3051.4 518.7,3049.0 528.3,3058.6 561.9,3058.6 581.1,3062.4 600.3,3070.6 605.1,3059.5 621.9,3058.6 629.1,3046.6 637.8,3041.8 648.3,3054.7 657.9,3061.0 672.4,3058.6 686.8,3070.6 701.2,3076.8 706.0,3071.5 720.4,3073.0 739.6,3068.2 758.8,3065.8 764.6,3058.6 775.6,3068.2 792.4,3068.2 811.6,3075.4 826.1,3081.2 831.8,3070.6 840.5,3072.0 859.7,3082.6 874.4,3082.6 884.0,3094.6 893.6,3094.6 905.6,3111.4 922.4,3109.0 939.3,3116.2 956.1,3113.8 972.9,3118.6 992.1,3130.6 1000.7,3147.4 1013.7,3133.0 1052.1,3123.4 1066.5,3109.0 1078.5,3109.0 1083.3,3093.2 1100.2,3106.6 1129.0,3104.2 1148.2,3116.2 1167.4,3109.0 1196.2,3111.4 1234.6,3101.8 1244.2,3097.0 1258.7,3102.8 1277.9,3099.4 1299.5,3102.8 1311.5,3094.6 1328.3,3109.0 1359.5,3101.8 1376.3,3075.4 1402.7,3065.8 1426.8,3054.7 1443.6,3054.7 1455.6,3068.2 1484.4,3067.2 1498.8,3061.0 1532.4,3063.4 1561.2,3057.6 1574.4,3055.8 1588.8,3060.6 1598.4,3058.2 1617.6,3066.4 1627.2,3064.5 1634.4,3069.3 1648.7,3063.0 1679.9,3062.1 1689.5,3065.4 1708.7,3066.4 1727.9,3073.6 1742.3,3076.4 1756.7,3083.2 1771.1,3076.4 1790.2,3076.4 1809.4,3078.4 1828.6,3086.0 1838.2,3081.2 1857.4,3083.2 1886.2,3088.0 1895.8,3084.6 1915.0,3090.8 1924.6,3084.6 1943.7,3088.4 1967.7,3083.2 1991.7,3082.2 2006.1,3081.2" fill="none" stroke="#b5494b" stroke-width="3.7" stroke-linejoin="round"/><polyline points="213.7,3080.2 218.5,3099.4 235.3,3101.8 245.8,3094.6 254.5,3098.0 278.5,3094.6 293.9,3082.6 321.7,3087.4 331.3,3082.6 336.1,3088.4 369.8,3094.6 393.8,3096.0 408.2,3101.8 413.9,3106.6 427.4,3093.2 456.2,3097.0 468.2,3086.4 499.4,3088.4 518.7,3091.2 528.3,3097.0 542.7,3101.8 557.1,3099.4 571.5,3102.8 585.9,3101.8 597.9,3109.0 607.5,3102.8 624.3,3100.8 637.8,3091.2 653.1,3097.0 672.4,3096.0 696.4,3099.4 706.0,3100.8 725.2,3098.0 763.6,3097.0 792.4,3099.4 811.6,3099.4 826.1,3104.2 835.7,3098.4 845.3,3100.8 859.7,3112.9 879.2,3118.6 893.6,3118.6 905.6,3130.6 922.4,3135.4 956.1,3133.0 975.3,3140.2 1000.7,3152.2 1018.5,3147.4 1056.9,3142.6 1066.5,3133.0 1078.5,3130.6 1084.8,3113.8 1100.2,3128.2 1129.0,3130.6 1148.2,3137.8 1167.4,3133.0 1196.2,3135.4 1234.6,3126.8 1258.7,3124.9 1299.5,3126.8 1321.1,3123.4 1333.1,3128.2 1359.5,3123.4 1376.3,3118.6 1402.7,3111.4 1426.8,3101.8 1442.6,3094.6 1458.0,3106.6 1484.4,3102.8 1532.4,3104.2 1561.2,3100.8 1574.4,3098.0 1588.8,3103.8 1612.8,3106.2 1636.7,3110.0 1648.7,3106.2 1675.1,3103.8 1703.9,3108.6 1718.3,3111.0 1742.3,3118.2 1759.1,3124.4 1766.3,3118.2 1790.2,3121.5 1819.0,3126.3 1833.4,3131.1 1843.0,3125.4 1871.8,3131.1 1886.2,3134.0 1895.8,3129.2 1915.0,3137.4 1924.6,3130.2 1934.2,3129.2 1948.5,3135.9 1967.7,3124.4 1986.9,3127.8 2001.3,3120.6 2006.1,3122.0" fill="none" stroke="#4a7ebb" stroke-width="3.7" stroke-linejoin="round"/><polyline points="213.7,3100.8 235.3,3104.2 254.5,3102.8 278.5,3099.4 292.9,3095.6 307.3,3096.0 326.5,3098.0 336.1,3105.6 345.7,3106.6 369.8,3113.8 393.8,3116.2 408.2,3123.4 413.9,3129.7 427.4,3124.9 446.6,3125.8 458.6,3131.6 468.2,3123.4 499.4,3126.8 518.7,3130.6 533.1,3140.2 540.3,3143.6 561.9,3139.3 585.9,3139.3 597.9,3141.2 607.5,3134.5 624.3,3133.0 637.8,3124.9 653.1,3129.7 672.4,3126.8 696.4,3133.0 703.6,3134.5 725.2,3133.0 763.6,3133.0 792.4,3134.0 811.6,3132.1 826.1,3133.0 840.5,3132.1 850.1,3137.8 859.7,3146.0 893.6,3147.4 922.4,3149.8 956.1,3152.2 984.9,3157.0 1004.1,3159.4 1028.1,3153.7 1056.9,3150.8 1066.5,3141.2 1078.5,3139.3 1082.4,3133.0 1095.4,3141.2 1129.0,3142.6 1148.2,3147.4 1196.2,3147.4 1198.6,3159.4 1205.8,3159.4 1208.2,3145.0 1216.4,3145.0 1217.8,3159.4 1220.2,3145.0 1244.2,3140.2 1253.9,3135.4 1258.7,3140.2 1321.1,3137.8 1335.5,3139.3 1364.3,3135.4 1402.7,3133.0 1426.8,3126.8 1441.2,3121.0 1455.6,3126.8 1484.4,3129.7 1542.0,3134.5 1561.2,3132.5 1579.2,3130.2 1617.6,3135.9 1646.3,3134.0 1703.9,3135.0 1727.9,3138.8 1751.9,3140.7 1790.2,3143.1 1828.6,3146.0 1857.4,3144.6 1895.8,3147.0 1912.6,3149.4 1943.7,3147.0 1967.7,3145.5 1991.7,3146.0 2006.1,3144.6" fill="none" stroke="#5c3310" stroke-width="3.7" stroke-linejoin="round"/><rect x="2016.5" y="2978.5" width="126" height="199.5" rx="17" ry="17" fill="#fff" stroke="#c0504d" stroke-width="2.6"/></svg>
<span style="left:292.9px;top:3152.4px;font-size:26.5px;line-height:26.5px;color:#1a1a1a;transform-origin:0 50%;transform:scaleX(0.9781);">MPC</span>
<span style="left:1578.0px;top:3158.9px;font-size:20.5px;line-height:20.5px;color:#1a1a1a;font-weight:bold;transform-origin:0 50%;transform:scaleX(1.1341);">1.5%</span>
<span style="left:177.6px;top:3208.1px;font-size:13.5px;line-height:13.5px;color:#000;font-weight:bold;transform-origin:0 50%;transform:scaleX(1.1981);">2015</span>
<span style="left:793.9px;top:3208.1px;font-size:13.5px;line-height:13.5px;color:#000;font-weight:bold;transform-origin:0 50%;transform:scaleX(1.1981);">2016</span>
<span style="left:1418.1px;top:3208.1px;font-size:13.5px;line-height:13.5px;color:#000;font-weight:bold;transform-origin:0 50%;transform:scaleX(1.1648);">2017</span>
<span style="left:2038.7px;top:3001.6px;font-size:16.5px;line-height:16.5px;color:#5f497a;font-family:'Liberation Serif', serif;transform-origin:0 50%;transform:scaleX(1.2033);">3..47<em style="font-size:11px">%</em> 50<em style="font-size:11px">-yr</em></span>
<span style="left:2038.7px;top:3039.0px;font-size:16.5px;line-height:16.5px;color:#1e6b1e;font-family:'Liberation Serif', serif;transform-origin:0 50%;transform:scaleX(1.1888);">2.91<em style="font-size:11px">%</em> 20<em style="font-size:11px">-yr</em></span>
<span style="left:2038.7px;top:3080.3px;font-size:16.5px;line-height:16.5px;color:#c00000;font-family:'Liberation Serif', serif;transform-origin:0 50%;transform:scaleX(1.1748);">2.49<em style="font-size:11px">%</em> 10<em style="font-size:11px">-yr</em></span>
<span style="left:2038.7px;top:3115.3px;font-size:16.5px;line-height:16.5px;color:#4f6fa0;font-family:'Liberation Serif', serif;transform-origin:0 50%;transform:scaleX(1.2016);">1.91<em style="font-size:11px">%</em> 5<em style="font-size:11px">-yr</em></span>
<span style="left:2038.7px;top:3149.8px;font-size:16.5px;line-height:16.5px;color:#7a4a16;font-family:'Liberation Serif', serif;transform-origin:0 50%;transform:scaleX(1.1858);">1.57<em style="font-size:11px">%</em> 3<em style="font-size:11px">-yr</em></span>
<span style="left:1864.6px;top:3215.6px;font-size:17.0px;line-height:17.0px;color:#000;transform-origin:0 50%;transform:scaleX(1.0497);">Source : ThaiBMA (As of Nov 17<sup>th</sup> ,2017 )</span>
<div style="left:919.0px;top:2878.5px;width:593.3px;height:114.3px;background:#000;"></div>
<div style="left:921.5px;top:2881.0px;width:162.7px;height:20.5px;background:#808080;"></div>
<div style="left:1087.2px;top:2881.0px;width:79.7px;height:20.5px;background:#808080;"></div>
<div style="left:1169.9px;top:2881.0px;width:79.6px;height:20.5px;background:#808080;"></div>
<div style="left:1252.5px;top:2881.0px;width:79.1px;height:20.5px;background:#808080;"></div>
<div style="left:1334.6px;top:2881.0px;width:91.6px;height:20.5px;background:#808080;"></div>
<div style="left:1429.2px;top:2881.0px;width:80.6px;height:20.5px;background:#808080;"></div>
<div style="left:921.5px;top:2903.5px;width:162.7px;height:20.5px;background:#ff0000;"></div>
<div style="left:1087.2px;top:2903.5px;width:79.7px;height:20.5px;background:#ff0000;"></div>
<div style="left:1169.9px;top:2903.5px;width:79.6px;height:20.5px;background:#ff0000;"></div>
<div style="left:1252.5px;top:2903.5px;width:79.1px;height:20.5px;background:#ff0000;"></div>
<div style="left:1334.6px;top:2903.5px;width:91.6px;height:20.5px;background:#ff0000;"></div>
<div style="left:1429.2px;top:2903.5px;width:80.6px;height:20.5px;background:#ff0000;"></div>
<div style="left:921.5px;top:2926.0px;width:162.7px;height:20.1px;background:#dce6f1;"></div>
<div style="left:1087.2px;top:2926.0px;width:79.7px;height:20.1px;background:#dce6f1;"></div>
<div style="left:1169.9px;top:2926.0px;width:79.6px;height:20.1px;background:#dce6f1;"></div>
<div style="left:1252.5px;top:2926.0px;width:79.1px;height:20.1px;background:#dce6f1;"></div>
<div style="left:1334.6px;top:2926.0px;width:91.6px;height:20.1px;background:#dce6f1;"></div>
<div style="left:1429.2px;top:2926.0px;width:80.6px;height:20.1px;background:#dce6f1;"></div>
<div style="left:921.5px;top:2948.1px;width:162.7px;height:19.7px;background:#fff;"></div>
<div style="left:1087.2px;top:2948.1px;width:79.7px;height:19.7px;background:#fff;"></div>
<div style="left:1169.9px;top:2948.1px;width:79.6px;height:19.7px;background:#fff;"></div>
<div style="left:1252.5px;top:2948.1px;width:79.1px;height:19.7px;background:#fff;"></div>
<div style="left:1334.6px;top:2948.1px;width:91.6px;height:19.7px;background:#fff;"></div>
<div style="left:1429.2px;top:2948.1px;width:80.6px;height:19.7px;background:#fff;"></div>
<div style="left:921.5px;top:2969.8px;width:162.7px;height:20.5px;background:#dce6f1;"></div>
<div style="left:1087.2px;top:2969.8px;width:79.7px;height:20.5px;background:#dce6f1;"></div>
<div style="left:1169.9px;top:2969.8px;width:79.6px;height:20.5px;background:#dce6f1;"></div>
<div style="left:1252.5px;top:2969.8px;width:79.1px;height:20.5px;background:#dce6f1;"></div>
<div style="left:1334.6px;top:2969.8px;width:91.6px;height:20.5px;background:#dce6f1;"></div>
<div style="left:1429.2px;top:2969.8px;width:80.6px;height:20.5px;background:#dce6f1;"></div>
<span style="left:1003.1px;top:2884.5px;font-size:15.5px;line-height:15.5px;color:#fff;transform:translateX(-50%) scaleX(1.0400);">Date</span>
<span style="left:1127.1px;top:2884.5px;font-size:15.5px;line-height:15.5px;color:#fff;transform:translateX(-50%) scaleX(1.0400);">3Yr</span>
<span style="left:1209.7px;top:2884.5px;font-size:15.5px;line-height:15.5px;color:#fff;transform:translateX(-50%) scaleX(1.0400);">5Yr</span>
<span style="left:1292.0px;top:2884.5px;font-size:15.5px;line-height:15.5px;color:#fff;transform:translateX(-50%) scaleX(1.0400);">10Yr</span>
<span style="left:1380.4px;top:2884.5px;font-size:15.5px;line-height:15.5px;color:#fff;transform:translateX(-50%) scaleX(1.0400);">20Yr</span>
<span style="left:1469.2px;top:2884.5px;font-size:15.5px;line-height:15.5px;color:#fff;transform:translateX(-50%) scaleX(1.0400);">50Yr</span>
<span style="left:924.0px;top:2906.3px;font-size:16.0px;line-height:16.0px;color:#fff;font-weight:bold;transform-origin:0 50%;transform:scaleX(1.2000);">Today</span>
<span style="left:1127.1px;top:2906.8px;font-size:16.0px;line-height:16.0px;color:#fff;font-weight:bold;transform:translateX(-50%) scaleX(1.2000);">1.57</span>
<span style="left:1209.7px;top:2906.8px;font-size:16.0px;line-height:16.0px;color:#fff;font-weight:bold;transform:translateX(-50%) scaleX(1.2000);">1.91</span>
<span style="left:1292.0px;top:2906.8px;font-size:16.0px;line-height:16.0px;color:#fff;font-weight:bold;transform:translateX(-50%) scaleX(1.2000);">2.49</span>
<span style="left:1380.4px;top:2906.8px;font-size:16.0px;line-height:16.0px;color:#fff;font-weight:bold;transform:translateX(-50%) scaleX(1.2000);">2.91</span>
<span style="left:1469.2px;top:2906.8px;font-size:16.0px;line-height:16.0px;color:#fff;font-weight:bold;transform:translateX(-50%) scaleX(1.2000);">3.47</span>
<span style="left:923.0px;top:2929.2px;font-size:15.5px;line-height:15.5px;color:#000;transform-origin:0 50%;transform:scaleX(1.0600);">Last week</span>
<span style="left:1127.1px;top:2929.7px;font-size:15.5px;line-height:15.5px;color:#000;transform:translateX(-50%) scaleX(1.0600);">1.57</span>
<span style="left:1209.7px;top:2929.7px;font-size:15.5px;line-height:15.5px;color:#000;transform:translateX(-50%) scaleX(1.0600);">1.87</span>
<span style="left:1292.0px;top:2929.7px;font-size:15.5px;line-height:15.5px;color:#000;transform:translateX(-50%) scaleX(1.0600);">2.48</span>
<span style="left:1380.4px;top:2929.7px;font-size:15.5px;line-height:15.5px;color:#000;transform:translateX(-50%) scaleX(1.0600);">2.90</span>
<span style="left:1469.2px;top:2929.7px;font-size:15.5px;line-height:15.5px;color:#000;transform:translateX(-50%) scaleX(1.0600);">3.47</span>
<span style="left:923.0px;top:2948.8px;font-size:15.5px;line-height:15.5px;color:#000;transform-origin:0 50%;transform:scaleX(1.0600);">Last month</span>
<span style="left:1127.1px;top:2951.8px;font-size:15.5px;line-height:15.5px;color:#000;transform:translateX(-50%) scaleX(1.0600);">1.58</span>
<span style="left:1209.7px;top:2951.8px;font-size:15.5px;line-height:15.5px;color:#000;transform:translateX(-50%) scaleX(1.0600);">1.87</span>
<span style="left:1292.0px;top:2951.8px;font-size:15.5px;line-height:15.5px;color:#000;transform:translateX(-50%) scaleX(1.0600);">2.48</span>
<span style="left:1380.4px;top:2951.8px;font-size:15.5px;line-height:15.5px;color:#000;transform:translateX(-50%) scaleX(1.0600);">2.90</span>
<span style="left:1469.2px;top:2951.8px;font-size:15.5px;line-height:15.5px;color:#000;transform:translateX(-50%) scaleX(1.0600);">3.50</span>
<span style="left:923.0px;top:2973.0px;font-size:15.5px;line-height:15.5px;color:#000;transform-origin:0 50%;transform:scaleX(1.0600);">Beginning of 2017</span>
<span style="left:1127.1px;top:2973.5px;font-size:15.5px;line-height:15.5px;color:#000;transform:translateX(-50%) scaleX(1.0600);">1.83</span>
<span style="left:1209.7px;top:2973.5px;font-size:15.5px;line-height:15.5px;color:#000;transform:translateX(-50%) scaleX(1.0600);">2.1</span>
<span style="left:1292.0px;top:2973.5px;font-size:15.5px;line-height:15.5px;color:#000;transform:translateX(-50%) scaleX(1.0600);">2.67</span>
<span style="left:1380.4px;top:2973.5px;font-size:15.5px;line-height:15.5px;color:#000;transform:translateX(-50%) scaleX(1.0600);">3.29</span>
<span style="left:1469.2px;top:2973.5px;font-size:15.5px;line-height:15.5px;color:#000;transform:translateX(-50%) scaleX(1.0600);">3.67</span>
</div></body></html>
